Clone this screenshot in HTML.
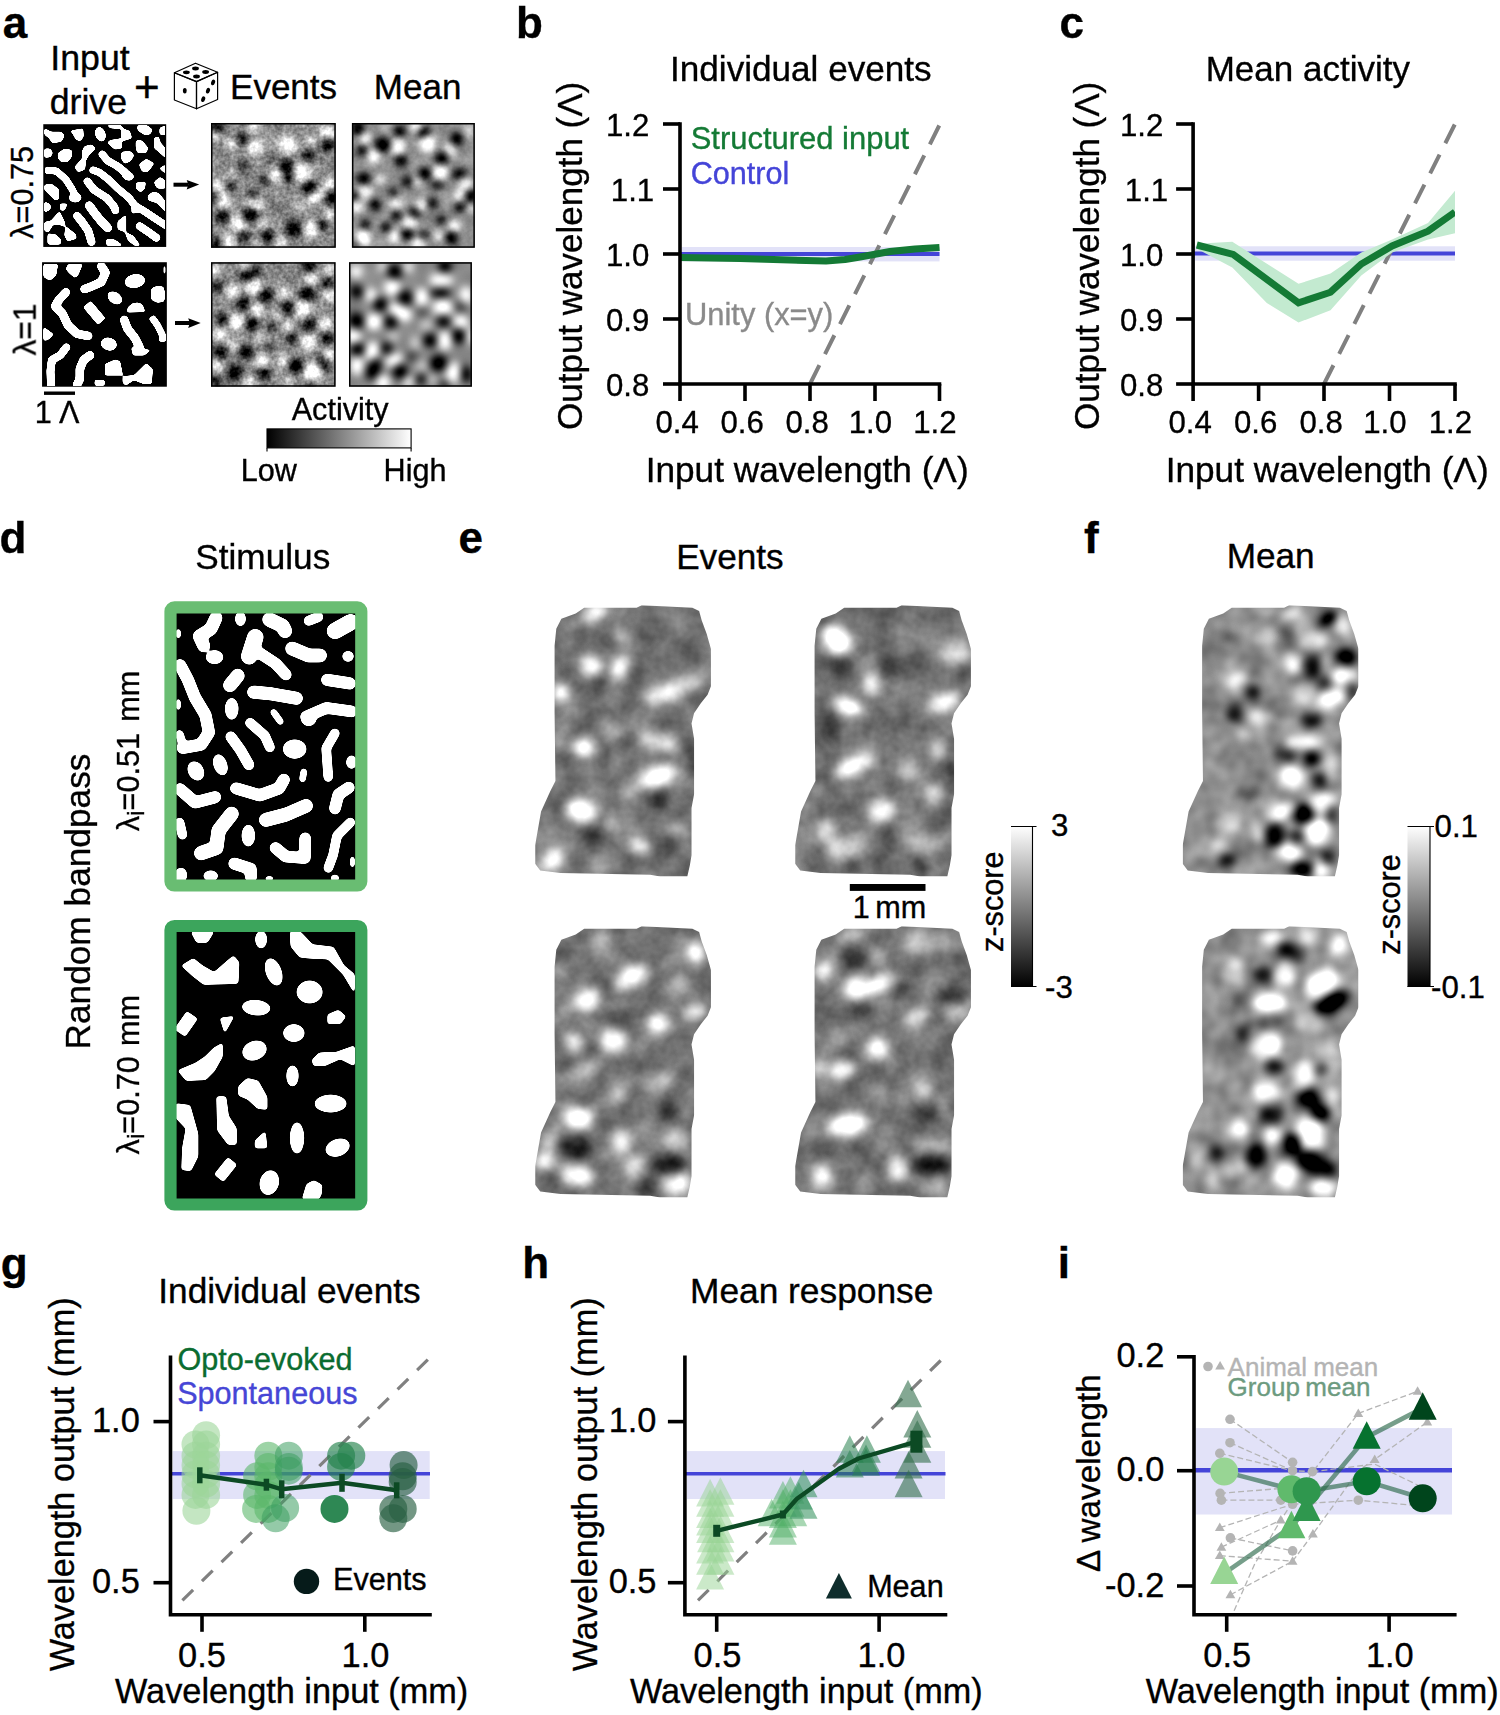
<!DOCTYPE html>
<html><head><meta charset="utf-8"><title>Figure</title>
<style>html,body{margin:0;padding:0;background:#fff}svg{display:block}text{font-family:"Liberation Sans",Arial,Helvetica,sans-serif}</style>
</head><body>
<svg width="1500" height="1715" viewBox="0 0 1500 1715">
<defs><filter id="bS" x="-5%" y="-5%" width="110%" height="110%"><feGaussianBlur stdDeviation="14"/><feComponentTransfer><feFuncA type="linear" slope="9" intercept="-4"/></feComponentTransfer></filter>
<filter id="bS2" x="-5%" y="-5%" width="110%" height="110%"><feGaussianBlur stdDeviation="9"/><feComponentTransfer><feFuncA type="linear" slope="7" intercept="-3"/></feComponentTransfer></filter>
<linearGradient id="gh" x1="0" x2="1" y1="0" y2="0"><stop offset="0" stop-color="#000"/><stop offset="1" stop-color="#fff"/></linearGradient>
<linearGradient id="gv" x1="0" x2="0" y1="0" y2="1"><stop offset="0" stop-color="#fff"/><stop offset="1" stop-color="#000"/></linearGradient><filter id="f1" x="-5%" y="-5%" width="110%" height="110%" color-interpolation-filters="sRGB"><feGaussianBlur in="SourceGraphic" stdDeviation="40" result="b"/><feTurbulence type="fractalNoise" baseFrequency="0.007" numOctaves="1" seed="7" result="n"/><feColorMatrix in="n" type="matrix" values="1 0 0 0 0 1 0 0 0 0 1 0 0 0 0 0 0 0 0 1" result="ng"/><feComposite in="b" in2="ng" operator="arithmetic" k1="0" k2="1" k3="0.22" k4="-0.110" result="b"/><feTurbulence type="fractalNoise" baseFrequency="0.025" numOctaves="2" seed="8" result="n"/><feColorMatrix in="n" type="matrix" values="1 0 0 0 0 1 0 0 0 0 1 0 0 0 0 0 0 0 0 1" result="ng"/><feComposite in="b" in2="ng" operator="arithmetic" k1="0" k2="1" k3="0.33" k4="-0.165" result="b"/><feComponentTransfer in="b"><feFuncR type="linear" slope="1.35" intercept="-0.193"/><feFuncG type="linear" slope="1.35" intercept="-0.193"/><feFuncB type="linear" slope="1.35" intercept="-0.193"/></feComponentTransfer></filter><filter id="f2" x="-5%" y="-5%" width="110%" height="110%" color-interpolation-filters="sRGB"><feGaussianBlur in="SourceGraphic" stdDeviation="40" result="b"/><feTurbulence type="fractalNoise" baseFrequency="0.007" numOctaves="1" seed="14" result="n"/><feColorMatrix in="n" type="matrix" values="1 0 0 0 0 1 0 0 0 0 1 0 0 0 0 0 0 0 0 1" result="ng"/><feComposite in="b" in2="ng" operator="arithmetic" k1="0" k2="1" k3="0.2" k4="-0.100" result="b"/><feTurbulence type="fractalNoise" baseFrequency="0.025" numOctaves="2" seed="15" result="n"/><feColorMatrix in="n" type="matrix" values="1 0 0 0 0 1 0 0 0 0 1 0 0 0 0 0 0 0 0 1" result="ng"/><feComposite in="b" in2="ng" operator="arithmetic" k1="0" k2="1" k3="0.08" k4="-0.040" result="b"/><feComponentTransfer in="b"><feFuncR type="linear" slope="1.35" intercept="-0.193"/><feFuncG type="linear" slope="1.35" intercept="-0.193"/><feFuncB type="linear" slope="1.35" intercept="-0.193"/></feComponentTransfer></filter><filter id="f3" x="-5%" y="-5%" width="110%" height="110%" color-interpolation-filters="sRGB"><feGaussianBlur in="SourceGraphic" stdDeviation="40" result="b"/><feTurbulence type="fractalNoise" baseFrequency="0.007" numOctaves="1" seed="21" result="n"/><feColorMatrix in="n" type="matrix" values="1 0 0 0 0 1 0 0 0 0 1 0 0 0 0 0 0 0 0 1" result="ng"/><feComposite in="b" in2="ng" operator="arithmetic" k1="0" k2="1" k3="0.22" k4="-0.110" result="b"/><feTurbulence type="fractalNoise" baseFrequency="0.025" numOctaves="2" seed="22" result="n"/><feColorMatrix in="n" type="matrix" values="1 0 0 0 0 1 0 0 0 0 1 0 0 0 0 0 0 0 0 1" result="ng"/><feComposite in="b" in2="ng" operator="arithmetic" k1="0" k2="1" k3="0.33" k4="-0.165" result="b"/><feComponentTransfer in="b"><feFuncR type="linear" slope="1.35" intercept="-0.193"/><feFuncG type="linear" slope="1.35" intercept="-0.193"/><feFuncB type="linear" slope="1.35" intercept="-0.193"/></feComponentTransfer></filter><filter id="f4" x="-5%" y="-5%" width="110%" height="110%" color-interpolation-filters="sRGB"><feGaussianBlur in="SourceGraphic" stdDeviation="44.800000000000004" result="b"/><feTurbulence type="fractalNoise" baseFrequency="0.005" numOctaves="1" seed="28" result="n"/><feColorMatrix in="n" type="matrix" values="1 0 0 0 0 1 0 0 0 0 1 0 0 0 0 0 0 0 0 1" result="ng"/><feComposite in="b" in2="ng" operator="arithmetic" k1="0" k2="1" k3="0.15" k4="-0.075" result="b"/><feComponentTransfer in="b"><feFuncR type="linear" slope="1.45" intercept="-0.247"/><feFuncG type="linear" slope="1.45" intercept="-0.247"/><feFuncB type="linear" slope="1.45" intercept="-0.247"/></feComponentTransfer></filter><filter id="f5" x="-5%" y="-5%" width="110%" height="110%" color-interpolation-filters="sRGB"><feGaussianBlur in="SourceGraphic" stdDeviation="31" result="b"/><feTurbulence type="fractalNoise" baseFrequency="0.006" numOctaves="2" seed="35" result="n"/><feColorMatrix in="n" type="matrix" values="1 0 0 0 0 1 0 0 0 0 1 0 0 0 0 0 0 0 0 1" result="ng"/><feComposite in="b" in2="ng" operator="arithmetic" k1="0" k2="1" k3="0.32" k4="-0.160" result="b"/><feTurbulence type="fractalNoise" baseFrequency="0.03" numOctaves="1" seed="36" result="n"/><feColorMatrix in="n" type="matrix" values="1 0 0 0 0 1 0 0 0 0 1 0 0 0 0 0 0 0 0 1" result="ng"/><feComposite in="b" in2="ng" operator="arithmetic" k1="0" k2="1" k3="0.07" k4="-0.035" result="b"/><feComponentTransfer in="b"><feFuncR type="linear" slope="1.3" intercept="-0.135"/><feFuncG type="linear" slope="1.3" intercept="-0.135"/><feFuncB type="linear" slope="1.3" intercept="-0.135"/></feComponentTransfer></filter><filter id="f6" x="-5%" y="-5%" width="110%" height="110%" color-interpolation-filters="sRGB"><feGaussianBlur in="SourceGraphic" stdDeviation="31" result="b"/><feTurbulence type="fractalNoise" baseFrequency="0.006" numOctaves="2" seed="42" result="n"/><feColorMatrix in="n" type="matrix" values="1 0 0 0 0 1 0 0 0 0 1 0 0 0 0 0 0 0 0 1" result="ng"/><feComposite in="b" in2="ng" operator="arithmetic" k1="0" k2="1" k3="0.32" k4="-0.160" result="b"/><feTurbulence type="fractalNoise" baseFrequency="0.03" numOctaves="1" seed="43" result="n"/><feColorMatrix in="n" type="matrix" values="1 0 0 0 0 1 0 0 0 0 1 0 0 0 0 0 0 0 0 1" result="ng"/><feComposite in="b" in2="ng" operator="arithmetic" k1="0" k2="1" k3="0.07" k4="-0.035" result="b"/><feComponentTransfer in="b"><feFuncR type="linear" slope="1.3" intercept="-0.135"/><feFuncG type="linear" slope="1.3" intercept="-0.135"/><feFuncB type="linear" slope="1.3" intercept="-0.135"/></feComponentTransfer></filter><filter id="f7" x="-5%" y="-5%" width="110%" height="110%" color-interpolation-filters="sRGB"><feGaussianBlur in="SourceGraphic" stdDeviation="31" result="b"/><feTurbulence type="fractalNoise" baseFrequency="0.006" numOctaves="2" seed="49" result="n"/><feColorMatrix in="n" type="matrix" values="1 0 0 0 0 1 0 0 0 0 1 0 0 0 0 0 0 0 0 1" result="ng"/><feComposite in="b" in2="ng" operator="arithmetic" k1="0" k2="1" k3="0.32" k4="-0.160" result="b"/><feTurbulence type="fractalNoise" baseFrequency="0.03" numOctaves="1" seed="50" result="n"/><feColorMatrix in="n" type="matrix" values="1 0 0 0 0 1 0 0 0 0 1 0 0 0 0 0 0 0 0 1" result="ng"/><feComposite in="b" in2="ng" operator="arithmetic" k1="0" k2="1" k3="0.07" k4="-0.035" result="b"/><feComponentTransfer in="b"><feFuncR type="linear" slope="1.3" intercept="-0.135"/><feFuncG type="linear" slope="1.3" intercept="-0.135"/><feFuncB type="linear" slope="1.3" intercept="-0.135"/></feComponentTransfer></filter><filter id="f8" x="-5%" y="-5%" width="110%" height="110%" color-interpolation-filters="sRGB"><feGaussianBlur in="SourceGraphic" stdDeviation="31" result="b"/><feTurbulence type="fractalNoise" baseFrequency="0.006" numOctaves="2" seed="56" result="n"/><feColorMatrix in="n" type="matrix" values="1 0 0 0 0 1 0 0 0 0 1 0 0 0 0 0 0 0 0 1" result="ng"/><feComposite in="b" in2="ng" operator="arithmetic" k1="0" k2="1" k3="0.32" k4="-0.160" result="b"/><feTurbulence type="fractalNoise" baseFrequency="0.03" numOctaves="1" seed="57" result="n"/><feColorMatrix in="n" type="matrix" values="1 0 0 0 0 1 0 0 0 0 1 0 0 0 0 0 0 0 0 1" result="ng"/><feComposite in="b" in2="ng" operator="arithmetic" k1="0" k2="1" k3="0.07" k4="-0.035" result="b"/><feComponentTransfer in="b"><feFuncR type="linear" slope="1.3" intercept="-0.135"/><feFuncG type="linear" slope="1.3" intercept="-0.135"/><feFuncB type="linear" slope="1.3" intercept="-0.135"/></feComponentTransfer></filter><filter id="f9" x="-5%" y="-5%" width="110%" height="110%" color-interpolation-filters="sRGB"><feGaussianBlur in="SourceGraphic" stdDeviation="29" result="b"/><feTurbulence type="fractalNoise" baseFrequency="0.007" numOctaves="2" seed="63" result="n"/><feColorMatrix in="n" type="matrix" values="1 0 0 0 0 1 0 0 0 0 1 0 0 0 0 0 0 0 0 1" result="ng"/><feComposite in="b" in2="ng" operator="arithmetic" k1="0" k2="1" k3="0.3" k4="-0.150" result="b"/><feComponentTransfer in="b"><feFuncR type="linear" slope="1.35" intercept="-0.193"/><feFuncG type="linear" slope="1.35" intercept="-0.193"/><feFuncB type="linear" slope="1.35" intercept="-0.193"/></feComponentTransfer></filter><filter id="f10" x="-5%" y="-5%" width="110%" height="110%" color-interpolation-filters="sRGB"><feGaussianBlur in="SourceGraphic" stdDeviation="29" result="b"/><feTurbulence type="fractalNoise" baseFrequency="0.007" numOctaves="2" seed="70" result="n"/><feColorMatrix in="n" type="matrix" values="1 0 0 0 0 1 0 0 0 0 1 0 0 0 0 0 0 0 0 1" result="ng"/><feComposite in="b" in2="ng" operator="arithmetic" k1="0" k2="1" k3="0.3" k4="-0.150" result="b"/><feComponentTransfer in="b"><feFuncR type="linear" slope="1.35" intercept="-0.193"/><feFuncG type="linear" slope="1.35" intercept="-0.193"/><feFuncB type="linear" slope="1.35" intercept="-0.193"/></feComponentTransfer></filter></defs>
<rect width="1500" height="1715" fill="#fff"/>
<g transform="translate(36,116) scale(0.09333)"><clipPath id="c1"><rect x="92" y="102" width="1289" height="1287"/></clipPath><rect x="78" y="88" width="1317" height="1315" fill="#000"/><g clip-path="url(#c1)"><g filter="url(#bS)"><g fill="#fff"><polygon points="95,140 160,175 270,175 300,210 270,270 180,285 140,230 95,195" stroke="#fff" stroke-width="16" stroke-linejoin="round"/><polygon points="375,160 500,140 505,220 470,265 430,245 400,190" stroke="#fff" stroke-width="16" stroke-linejoin="round"/><ellipse cx="690" cy="195" rx="56.0" ry="80.6" transform="rotate(-20 690 195)"/><polygon points="770,100 900,100 935,135 800,125" stroke="#fff" stroke-width="16" stroke-linejoin="round"/><polygon points="925,140 1000,165 1022,235 935,262 915,200" stroke="#fff" stroke-width="16" stroke-linejoin="round"/><polygon points="770,285 800,262 915,245 915,340 845,352" stroke="#fff" stroke-width="16" stroke-linejoin="round"/><polygon points="1090,105 1190,105 1245,150 1215,195 1160,195 1095,150" stroke="#fff" stroke-width="16" stroke-linejoin="round"/><polygon points="1330,130 1385,110 1385,200 1330,195" stroke="#fff" stroke-width="16" stroke-linejoin="round"/><polygon points="1270,240 1310,225 1330,290 1385,350 1385,440 1320,380 1270,340" stroke="#fff" stroke-width="16" stroke-linejoin="round"/><polygon points="1075,265 1130,265 1195,340 1180,390 1090,390 1075,340" stroke="#fff" stroke-width="16" stroke-linejoin="round"/><polygon points="95,355 150,355 175,395 150,435 95,440" stroke="#fff" stroke-width="16" stroke-linejoin="round"/><polygon points="240,400 310,355 380,370 380,430 340,485 270,485 240,445" stroke="#fff" stroke-width="16" stroke-linejoin="round"/><polygon points="520,330 590,310 635,345 560,420 530,470 520,570 450,595 420,545 500,460 500,380" stroke="#fff" stroke-width="16" stroke-linejoin="round"/><polyline points="710,410 770,480 870,535 950,600" fill="none" stroke="#fff" stroke-width="84.0" stroke-linecap="round" stroke-linejoin="round"/><ellipse cx="985" cy="640" rx="67.2" ry="50.4" transform="rotate(20 985 640)"/><polygon points="920,390 1010,385 1045,420 1010,480 950,505 920,460" stroke="#fff" stroke-width="16" stroke-linejoin="round"/><polygon points="1110,520 1180,465 1260,510 1200,590 1140,590" stroke="#fff" stroke-width="16" stroke-linejoin="round"/><polygon points="1330,560 1385,530 1385,610" stroke="#fff" stroke-width="16" stroke-linejoin="round"/><polyline points="95,580 220,590 320,680 390,790 430,870" fill="none" stroke="#fff" stroke-width="78.0" stroke-linecap="butt" stroke-linejoin="round"/><ellipse cx="420" cy="875" rx="69.4" ry="53.8"/><polyline points="610,580 680,605 790,690 880,780 1000,880 1060,960 1160,1020 1280,1100 1400,1180" fill="none" stroke="#fff" stroke-width="81.6" stroke-linecap="round" stroke-linejoin="round"/><polygon points="1030,960 1090,960 1090,1030 1030,1040" stroke="#fff" stroke-width="16" stroke-linejoin="round"/><polyline points="550,700 620,790 760,880 840,975 850,1010" fill="none" stroke="#fff" stroke-width="86.39999999999999" stroke-linecap="round" stroke-linejoin="round"/><polygon points="1075,720 1170,710 1160,780 1120,810 1080,780" stroke="#fff" stroke-width="16" stroke-linejoin="round"/><polygon points="1270,710 1330,660 1385,700 1385,770 1300,770" stroke="#fff" stroke-width="16" stroke-linejoin="round"/><polygon points="95,740 170,735 240,790 240,890 200,895 95,790" stroke="#fff" stroke-width="16" stroke-linejoin="round"/><polygon points="1200,860 1250,820 1310,830 1385,920 1385,1020 1300,930 1210,900" stroke="#fff" stroke-width="16" stroke-linejoin="round"/><polygon points="95,925 150,950 150,1000 95,1025" stroke="#fff" stroke-width="16" stroke-linejoin="round"/><polygon points="260,945 330,945 300,1010 265,1005" stroke="#fff" stroke-width="16" stroke-linejoin="round"/><polyline points="570,960 620,1030 700,1130 770,1200" fill="none" stroke="#fff" stroke-width="96.0" stroke-linecap="round" stroke-linejoin="round"/><polyline points="440,1070 490,1130 560,1230 595,1350" fill="none" stroke="#fff" stroke-width="90.0" stroke-linecap="round" stroke-linejoin="round"/><polygon points="250,1030 300,1130 310,1180 250,1160 180,1160 130,1240 95,1230 95,1140 160,1130" stroke="#fff" stroke-width="16" stroke-linejoin="round"/><polygon points="320,1190 420,1270 430,1310 340,1335 310,1280" stroke="#fff" stroke-width="16" stroke-linejoin="round"/><polygon points="130,1270 200,1270 260,1320 260,1370 130,1370" stroke="#fff" stroke-width="16" stroke-linejoin="round"/><polygon points="880,1130 960,1070 960,1240 880,1210" stroke="#fff" stroke-width="16" stroke-linejoin="round"/><polyline points="1110,1180 1200,1240 1290,1305" fill="none" stroke="#fff" stroke-width="86.39999999999999" stroke-linecap="round" stroke-linejoin="round"/><polygon points="960,1250 1040,1290 1110,1385 1060,1385 990,1330" stroke="#fff" stroke-width="16" stroke-linejoin="round"/><polygon points="760,1320 840,1330 920,1385 760,1385" stroke="#fff" stroke-width="16" stroke-linejoin="round"/></g></g></g></g>
<g transform="translate(204,116) scale(0.09333)"><clipPath id="c2"><rect x="75" y="75" width="1337" height="1337"/></clipPath><g clip-path="url(#c2)"><g filter="url(#f1)"><rect x="-75" y="-75" width="1637" height="1637" fill="#8c8c8c"/><ellipse cx="540" cy="330" rx="84.0" ry="84.0" fill="#fff" fill-opacity="0.9"/><ellipse cx="900" cy="310" rx="96.0" ry="96.0" fill="#fff" fill-opacity="0.9"/><ellipse cx="1050" cy="610" rx="102.0" ry="102.0" fill="#fff" fill-opacity="0.9"/><ellipse cx="770" cy="640" rx="72.0" ry="72.0" fill="#fff" fill-opacity="0.9"/><ellipse cx="1330" cy="180" rx="84.0" ry="84.0" fill="#fff" fill-opacity="0.9"/><ellipse cx="1150" cy="270" rx="48.0" ry="48.0" fill="#fff" fill-opacity="0.9"/><ellipse cx="540" cy="100" rx="60.0" ry="60.0" fill="#fff" fill-opacity="0.9"/><ellipse cx="300" cy="290" rx="60.0" ry="60.0" fill="#fff" fill-opacity="0.9"/><ellipse cx="150" cy="760" rx="72.0" ry="72.0" fill="#fff" fill-opacity="0.9"/><ellipse cx="200" cy="880" rx="72.0" ry="72.0" fill="#fff" fill-opacity="0.9"/><ellipse cx="220" cy="950" rx="60.0" ry="60.0" fill="#fff" fill-opacity="0.9"/><ellipse cx="540" cy="950" rx="108.0" ry="54.0" fill="#fff" fill-opacity="0.9"/><ellipse cx="1200" cy="860" rx="114.0" ry="60.0" transform="rotate(-30 1200 860)" fill="#fff" fill-opacity="0.9"/><ellipse cx="1350" cy="720" rx="60.0" ry="60.0" fill="#fff" fill-opacity="0.9"/><ellipse cx="370" cy="1150" rx="90.0" ry="90.0" fill="#fff" fill-opacity="0.9"/><ellipse cx="640" cy="1150" rx="54.0" ry="54.0" fill="#fff" fill-opacity="0.9"/><ellipse cx="1150" cy="1210" rx="90.0" ry="90.0" fill="#fff" fill-opacity="0.9"/><ellipse cx="260" cy="1340" rx="72.0" ry="72.0" fill="#fff" fill-opacity="0.9"/><ellipse cx="820" cy="1350" rx="60.0" ry="60.0" fill="#fff" fill-opacity="0.9"/><ellipse cx="1340" cy="1050" rx="54.0" ry="54.0" fill="#fff" fill-opacity="0.9"/><ellipse cx="120" cy="200" rx="54.0" ry="54.0" fill="#fff" fill-opacity="0.9"/><ellipse cx="560" cy="1370" rx="48.0" ry="48.0" fill="#fff" fill-opacity="0.9"/><ellipse cx="300" cy="620" rx="60.0" ry="60.0" fill="#fff" fill-opacity="0.4"/><ellipse cx="1000" cy="960" rx="72.0" ry="72.0" fill="#fff" fill-opacity="0.35"/><ellipse cx="730" cy="250" rx="60.0" ry="60.0" fill="#fff" fill-opacity="0.3"/><ellipse cx="150" cy="120" rx="66.0" ry="66.0" fill="#000" fill-opacity="0.9"/><ellipse cx="410" cy="250" rx="66.0" ry="66.0" fill="#000" fill-opacity="0.9"/><ellipse cx="1320" cy="310" rx="72.0" ry="72.0" fill="#000" fill-opacity="0.9"/><ellipse cx="1110" cy="430" rx="66.0" ry="66.0" fill="#000" fill-opacity="0.9"/><ellipse cx="880" cy="540" rx="78.0" ry="78.0" fill="#000" fill-opacity="0.9"/><ellipse cx="910" cy="660" rx="54.0" ry="54.0" fill="#000" fill-opacity="0.9"/><ellipse cx="1130" cy="760" rx="78.0" ry="78.0" fill="#000" fill-opacity="0.9"/><ellipse cx="110" cy="870" rx="54.0" ry="54.0" fill="#000" fill-opacity="0.9"/><ellipse cx="1370" cy="880" rx="78.0" ry="78.0" fill="#000" fill-opacity="0.9"/><ellipse cx="280" cy="760" rx="54.0" ry="54.0" fill="#000" fill-opacity="0.9"/><ellipse cx="200" cy="1080" rx="72.0" ry="72.0" fill="#000" fill-opacity="0.9"/><ellipse cx="490" cy="1060" rx="84.0" ry="84.0" fill="#000" fill-opacity="0.9"/><ellipse cx="960" cy="1210" rx="90.0" ry="90.0" fill="#000" fill-opacity="0.9"/><ellipse cx="1270" cy="1170" rx="60.0" ry="60.0" fill="#000" fill-opacity="0.9"/><ellipse cx="680" cy="1290" rx="72.0" ry="72.0" fill="#000" fill-opacity="0.9"/><ellipse cx="430" cy="1290" rx="60.0" ry="60.0" fill="#000" fill-opacity="0.9"/><ellipse cx="130" cy="1370" rx="66.0" ry="66.0" fill="#000" fill-opacity="0.9"/><ellipse cx="650" cy="700" rx="48.0" ry="48.0" fill="#000" fill-opacity="0.9"/><ellipse cx="430" cy="530" rx="48.0" ry="48.0" fill="#000" fill-opacity="0.9"/><ellipse cx="520" cy="830" rx="48.0" ry="48.0" fill="#000" fill-opacity="0.9"/><ellipse cx="720" cy="450" rx="48.0" ry="48.0" fill="#000" fill-opacity="0.4"/><ellipse cx="800" cy="1000" rx="60.0" ry="60.0" fill="#000" fill-opacity="0.3"/></g></g><rect x="83" y="83" width="1321" height="1321" fill="none" stroke="#000" stroke-width="16"/></g>
<g transform="translate(344,116) scale(0.09333)"><clipPath id="c3"><rect x="85" y="75" width="1317" height="1337"/></clipPath><g clip-path="url(#c3)"><g filter="url(#f2)"><rect x="-65" y="-75" width="1617" height="1637" fill="#909090"/><ellipse cx="570" cy="330" rx="86.39999999999999" ry="86.39999999999999" fill="#fff" fill-opacity="0.9"/><ellipse cx="890" cy="300" rx="90.0" ry="90.0" fill="#fff" fill-opacity="0.9"/><ellipse cx="320" cy="430" rx="74.39999999999999" ry="74.39999999999999" fill="#fff" fill-opacity="0.9"/><ellipse cx="1020" cy="610" rx="86.39999999999999" ry="86.39999999999999" fill="#fff" fill-opacity="0.9"/><ellipse cx="210" cy="820" rx="81.6" ry="81.6" fill="#fff" fill-opacity="0.9"/><ellipse cx="130" cy="980" rx="62.4" ry="62.4" fill="#fff" fill-opacity="0.9"/><ellipse cx="560" cy="950" rx="62.4" ry="62.4" fill="#fff" fill-opacity="0.9"/><ellipse cx="830" cy="950" rx="62.4" ry="62.4" fill="#fff" fill-opacity="0.9"/><ellipse cx="710" cy="1150" rx="74.39999999999999" ry="74.39999999999999" fill="#fff" fill-opacity="0.9"/><ellipse cx="200" cy="1310" rx="86.39999999999999" ry="86.39999999999999" fill="#fff" fill-opacity="0.9"/><ellipse cx="540" cy="1290" rx="62.4" ry="62.4" fill="#fff" fill-opacity="0.9"/><ellipse cx="800" cy="1370" rx="74.39999999999999" ry="74.39999999999999" fill="#fff" fill-opacity="0.9"/><ellipse cx="1130" cy="370" rx="72.0" ry="72.0" fill="#fff" fill-opacity="0.9"/><ellipse cx="770" cy="110" rx="60.0" ry="60.0" fill="#fff" fill-opacity="0.9"/><ellipse cx="1310" cy="730" rx="62.4" ry="62.4" fill="#fff" fill-opacity="0.9"/><ellipse cx="1370" cy="990" rx="48.0" ry="48.0" fill="#fff" fill-opacity="0.9"/><ellipse cx="1180" cy="1180" rx="60.0" ry="60.0" fill="#fff" fill-opacity="0.9"/><ellipse cx="790" cy="710" rx="50.4" ry="50.4" fill="#fff" fill-opacity="0.9"/><ellipse cx="220" cy="240" rx="60.0" ry="60.0" fill="#fff" fill-opacity="0.9"/><ellipse cx="1230" cy="850" rx="60.0" ry="60.0" fill="#fff" fill-opacity="0.9"/><ellipse cx="380" cy="680" rx="50.4" ry="50.4" fill="#fff" fill-opacity="0.9"/><ellipse cx="1010" cy="1290" rx="50.4" ry="50.4" fill="#fff" fill-opacity="0.9"/><ellipse cx="420" cy="130" rx="48.0" ry="48.0" fill="#fff" fill-opacity="0.4"/><ellipse cx="1330" cy="150" rx="72.0" ry="72.0" fill="#fff" fill-opacity="0.4"/><ellipse cx="150" cy="130" rx="74.39999999999999" ry="74.39999999999999" fill="#000" fill-opacity="0.9"/><ellipse cx="590" cy="160" rx="62.4" ry="62.4" fill="#000" fill-opacity="0.9"/><ellipse cx="860" cy="170" rx="84.0" ry="50.4" transform="rotate(-30 860 170)" fill="#000" fill-opacity="0.9"/><ellipse cx="420" cy="310" rx="86.39999999999999" ry="86.39999999999999" fill="#000" fill-opacity="0.9"/><ellipse cx="1210" cy="240" rx="74.39999999999999" ry="74.39999999999999" fill="#000" fill-opacity="0.9"/><ellipse cx="190" cy="370" rx="62.4" ry="62.4" fill="#000" fill-opacity="0.9"/><ellipse cx="610" cy="480" rx="69.6" ry="69.6" fill="#000" fill-opacity="0.9"/><ellipse cx="1050" cy="450" rx="74.39999999999999" ry="74.39999999999999" fill="#000" fill-opacity="0.9"/><ellipse cx="870" cy="620" rx="74.39999999999999" ry="74.39999999999999" fill="#000" fill-opacity="0.9"/><ellipse cx="210" cy="680" rx="69.6" ry="69.6" fill="#000" fill-opacity="0.9"/><ellipse cx="670" cy="700" rx="62.4" ry="62.4" fill="#000" fill-opacity="0.9"/><ellipse cx="1230" cy="620" rx="102.0" ry="43.199999999999996" transform="rotate(-25 1230 620)" fill="#000" fill-opacity="0.9"/><ellipse cx="110" cy="850" rx="57.599999999999994" ry="57.599999999999994" fill="#000" fill-opacity="0.9"/><ellipse cx="1370" cy="850" rx="74.39999999999999" ry="74.39999999999999" fill="#000" fill-opacity="0.9"/><ellipse cx="330" cy="950" rx="62.4" ry="62.4" fill="#000" fill-opacity="0.9"/><ellipse cx="950" cy="940" rx="57.599999999999994" ry="57.599999999999994" fill="#000" fill-opacity="0.9"/><ellipse cx="1240" cy="980" rx="57.599999999999994" ry="57.599999999999994" fill="#000" fill-opacity="0.9"/><ellipse cx="560" cy="1060" rx="57.599999999999994" ry="57.599999999999994" fill="#000" fill-opacity="0.9"/><ellipse cx="760" cy="1030" rx="48.0" ry="72.0" transform="rotate(-35 760 1030)" fill="#000" fill-opacity="0.9"/><ellipse cx="1040" cy="1120" rx="50.4" ry="50.4" fill="#000" fill-opacity="0.9"/><ellipse cx="230" cy="1170" rx="50.4" ry="50.4" fill="#000" fill-opacity="0.9"/><ellipse cx="450" cy="1190" rx="50.4" ry="50.4" fill="#000" fill-opacity="0.9"/><ellipse cx="680" cy="1270" rx="69.6" ry="69.6" fill="#000" fill-opacity="0.9"/><ellipse cx="860" cy="1270" rx="50.4" ry="50.4" fill="#000" fill-opacity="0.9"/><ellipse cx="1150" cy="1310" rx="74.39999999999999" ry="74.39999999999999" fill="#000" fill-opacity="0.9"/><ellipse cx="520" cy="820" rx="43.199999999999996" ry="43.199999999999996" fill="#000" fill-opacity="0.9"/><ellipse cx="1000" cy="740" rx="72.0" ry="48.0" fill="#000" fill-opacity="0.9"/><ellipse cx="130" cy="1380" rx="38.4" ry="38.4" fill="#000" fill-opacity="0.9"/></g></g><rect x="93" y="83" width="1301" height="1321" fill="none" stroke="#000" stroke-width="16"/></g>
<g transform="translate(36,254) scale(0.09333)"><clipPath id="c4"><rect x="79" y="102" width="1309" height="1306"/></clipPath><rect x="65" y="88" width="1337" height="1334" fill="#000"/><g clip-path="url(#c4)"><g filter="url(#bS)"><g fill="#fff"><polygon points="80,108 235,108 215,230 150,285 80,245" stroke="#fff" stroke-width="6" stroke-linejoin="round"/><polygon points="345,108 500,108 450,230 415,255 350,200 320,160" stroke="#fff" stroke-width="6" stroke-linejoin="round"/><polyline points="700,130 745,200 700,300 600,345 520,375" fill="none" stroke="#fff" stroke-width="95.0" stroke-linecap="round" stroke-linejoin="round"/><ellipse cx="1060" cy="290" rx="112.0" ry="75.0" transform="rotate(-10 1060 290)"/><polygon points="1368,125 1385,125 1385,215 1368,215" stroke="#fff" stroke-width="6" stroke-linejoin="round"/><polygon points="1235,370 1290,345 1365,350 1385,440 1370,510 1300,520 1235,490" stroke="#fff" stroke-width="6" stroke-linejoin="round"/><ellipse cx="845" cy="470" rx="88.0" ry="62.0" transform="rotate(35 845 470)"/><polyline points="320,410 245,490 205,560 285,640 340,760 440,855 560,878" fill="none" stroke="#fff" stroke-width="95.0" stroke-linecap="round" stroke-linejoin="round"/><polyline points="545,535 705,725" fill="none" stroke="#fff" stroke-width="110.0" stroke-linecap="butt" stroke-linejoin="round"/><polygon points="975,625 985,570 1030,530 1090,520 1140,540 1170,620" stroke="#fff" stroke-width="6" stroke-linejoin="round"/><polyline points="945,705 980,800 1060,900 1110,1000" fill="none" stroke="#fff" stroke-width="95.0" stroke-linecap="round" stroke-linejoin="round"/><polygon points="1020,1000 1230,1030 1160,1085 1040,1085" stroke="#fff" stroke-width="6" stroke-linejoin="round"/><polyline points="1235,670 1300,760 1355,870 1355,940" fill="none" stroke="#fff" stroke-width="75.0" stroke-linecap="butt" stroke-linejoin="round"/><polygon points="80,780 190,860 130,920 80,930" stroke="#fff" stroke-width="6" stroke-linejoin="round"/><ellipse cx="780" cy="965" rx="88.0" ry="70.0" transform="rotate(15 780 965)"/><polyline points="325,1000 260,1085 170,1135 155,1250 160,1400" fill="none" stroke="#fff" stroke-width="88.0" stroke-linecap="round" stroke-linejoin="round"/><polyline points="580,1085 510,1135 470,1230 470,1340 440,1400" fill="none" stroke="#fff" stroke-width="95.0" stroke-linecap="round" stroke-linejoin="round"/><polygon points="740,1180 850,1130 900,1150 930,1300 740,1300" stroke="#fff" stroke-width="6" stroke-linejoin="round"/><polygon points="930,1310 1050,1300 1180,1170 1250,1230 1240,1390 1150,1390 1050,1350 960,1410 930,1380" stroke="#fff" stroke-width="6" stroke-linejoin="round"/><polygon points="630,1350 735,1350 735,1410 630,1410" stroke="#fff" stroke-width="6" stroke-linejoin="round"/></g></g></g></g>
<g transform="translate(204,254) scale(0.09333)"><clipPath id="c5"><rect x="75" y="88" width="1335" height="1334"/></clipPath><g clip-path="url(#c5)"><g filter="url(#f3)"><rect x="-75" y="-62" width="1635" height="1634" fill="#8c8c8c"/><ellipse cx="540" cy="350" rx="93.6" ry="93.6" fill="#fff" fill-opacity="0.9"/><ellipse cx="1150" cy="270" rx="66.0" ry="66.0" fill="#fff" fill-opacity="0.9"/><ellipse cx="1060" cy="590" rx="96.0" ry="96.0" fill="#fff" fill-opacity="0.9"/><ellipse cx="570" cy="600" rx="74.39999999999999" ry="74.39999999999999" fill="#fff" fill-opacity="0.9"/><ellipse cx="300" cy="400" rx="66.0" ry="66.0" fill="#fff" fill-opacity="0.9"/><ellipse cx="340" cy="720" rx="86.39999999999999" ry="86.39999999999999" fill="#fff" fill-opacity="0.9"/><ellipse cx="1310" cy="750" rx="74.39999999999999" ry="74.39999999999999" fill="#fff" fill-opacity="0.9"/><ellipse cx="1120" cy="940" rx="86.39999999999999" ry="86.39999999999999" fill="#fff" fill-opacity="0.9"/><ellipse cx="900" cy="780" rx="60.0" ry="60.0" fill="#fff" fill-opacity="0.9"/><ellipse cx="170" cy="870" rx="72.0" ry="72.0" fill="#fff" fill-opacity="0.9"/><ellipse cx="620" cy="1150" rx="74.39999999999999" ry="74.39999999999999" fill="#fff" fill-opacity="0.9"/><ellipse cx="1160" cy="1270" rx="108.0" ry="108.0" fill="#fff" fill-opacity="0.9"/><ellipse cx="140" cy="1200" rx="60.0" ry="60.0" fill="#fff" fill-opacity="0.9"/><ellipse cx="120" cy="180" rx="60.0" ry="60.0" fill="#fff" fill-opacity="0.9"/><ellipse cx="1350" cy="170" rx="54.0" ry="54.0" fill="#fff" fill-opacity="0.9"/><ellipse cx="1330" cy="450" rx="60.0" ry="60.0" fill="#fff" fill-opacity="0.9"/><ellipse cx="840" cy="430" rx="60.0" ry="60.0" fill="#fff" fill-opacity="0.9"/><ellipse cx="770" cy="650" rx="48.0" ry="48.0" fill="#fff" fill-opacity="0.9"/><ellipse cx="1340" cy="1080" rx="60.0" ry="60.0" fill="#fff" fill-opacity="0.9"/><ellipse cx="850" cy="1150" rx="60.0" ry="60.0" fill="#fff" fill-opacity="0.9"/><ellipse cx="480" cy="1380" rx="60.0" ry="60.0" fill="#fff" fill-opacity="0.9"/><ellipse cx="600" cy="900" rx="48.0" ry="48.0" fill="#fff" fill-opacity="0.9"/><ellipse cx="300" cy="980" rx="48.0" ry="48.0" fill="#fff" fill-opacity="0.9"/><ellipse cx="900" cy="1360" rx="48.0" ry="48.0" fill="#fff" fill-opacity="0.9"/><ellipse cx="430" cy="130" rx="48.0" ry="48.0" fill="#fff" fill-opacity="0.9"/><ellipse cx="1120" cy="130" rx="74.39999999999999" ry="74.39999999999999" fill="#000" fill-opacity="0.9"/><ellipse cx="500" cy="220" rx="132.0" ry="60.0" transform="rotate(-20 500 220)" fill="#000" fill-opacity="0.9"/><ellipse cx="660" cy="450" rx="81.6" ry="81.6" fill="#000" fill-opacity="0.9"/><ellipse cx="1110" cy="430" rx="81.6" ry="81.6" fill="#000" fill-opacity="0.9"/><ellipse cx="420" cy="530" rx="74.39999999999999" ry="74.39999999999999" fill="#000" fill-opacity="0.9"/><ellipse cx="900" cy="580" rx="74.39999999999999" ry="74.39999999999999" fill="#000" fill-opacity="0.9"/><ellipse cx="1130" cy="760" rx="74.39999999999999" ry="74.39999999999999" fill="#000" fill-opacity="0.9"/><ellipse cx="520" cy="750" rx="69.6" ry="69.6" fill="#000" fill-opacity="0.9"/><ellipse cx="200" cy="700" rx="72.0" ry="54.0" transform="rotate(30 200 700)" fill="#000" fill-opacity="0.9"/><ellipse cx="1320" cy="900" rx="69.6" ry="69.6" fill="#000" fill-opacity="0.9"/><ellipse cx="940" cy="900" rx="62.4" ry="62.4" fill="#000" fill-opacity="0.9"/><ellipse cx="450" cy="1050" rx="74.39999999999999" ry="74.39999999999999" fill="#000" fill-opacity="0.9"/><ellipse cx="180" cy="1050" rx="74.39999999999999" ry="74.39999999999999" fill="#000" fill-opacity="0.9"/><ellipse cx="990" cy="1200" rx="86.39999999999999" ry="86.39999999999999" fill="#000" fill-opacity="0.9"/><ellipse cx="330" cy="1270" rx="81.6" ry="81.6" fill="#000" fill-opacity="0.9"/><ellipse cx="640" cy="1280" rx="69.6" ry="69.6" fill="#000" fill-opacity="0.9"/><ellipse cx="1280" cy="1170" rx="48.0" ry="108.0" transform="rotate(-30 1280 1170)" fill="#000" fill-opacity="0.9"/><ellipse cx="130" cy="1370" rx="60.0" ry="60.0" fill="#000" fill-opacity="0.9"/><ellipse cx="1320" cy="310" rx="60.0" ry="60.0" fill="#000" fill-opacity="0.9"/><ellipse cx="140" cy="350" rx="60.0" ry="60.0" fill="#000" fill-opacity="0.9"/><ellipse cx="720" cy="1000" rx="38.4" ry="38.4" fill="#000" fill-opacity="0.9"/><ellipse cx="730" cy="770" rx="48.0" ry="48.0" fill="#000" fill-opacity="0.9"/><ellipse cx="1150" cy="1400" rx="43.199999999999996" ry="43.199999999999996" fill="#000" fill-opacity="0.9"/></g></g><rect x="83" y="96" width="1319" height="1318" fill="none" stroke="#000" stroke-width="16"/></g>
<g transform="translate(342,254) scale(0.09333)"><clipPath id="c6"><rect x="75" y="88" width="1317" height="1334"/></clipPath><g clip-path="url(#c6)"><g filter="url(#f4)"><rect x="-75" y="-62" width="1617" height="1634" fill="#8a8a8a"/><ellipse cx="150" cy="190" rx="66.0" ry="66.0" fill="#fff" fill-opacity="0.9"/><ellipse cx="430" cy="130" rx="50.4" ry="50.4" fill="#fff" fill-opacity="0.9"/><ellipse cx="710" cy="140" rx="50.4" ry="50.4" fill="#fff" fill-opacity="0.9"/><ellipse cx="540" cy="360" rx="86.39999999999999" ry="86.39999999999999" fill="#fff" fill-opacity="0.9"/><ellipse cx="1060" cy="280" rx="126.0" ry="69.6" fill="#fff" fill-opacity="0.9"/><ellipse cx="310" cy="440" rx="60.0" ry="78.0" fill="#fff" fill-opacity="0.9"/><ellipse cx="850" cy="460" rx="69.6" ry="98.39999999999999" fill="#fff" fill-opacity="0.9"/><ellipse cx="1330" cy="440" rx="60.0" ry="98.39999999999999" fill="#fff" fill-opacity="0.9"/><ellipse cx="1080" cy="580" rx="98.39999999999999" ry="98.39999999999999" fill="#fff" fill-opacity="0.9"/><ellipse cx="620" cy="620" rx="138.0" ry="72.0" transform="rotate(32 620 620)" fill="#fff" fill-opacity="0.9"/><ellipse cx="340" cy="730" rx="86.39999999999999" ry="86.39999999999999" fill="#fff" fill-opacity="0.9"/><ellipse cx="1280" cy="730" rx="79.2" ry="79.2" fill="#fff" fill-opacity="0.9"/><ellipse cx="900" cy="760" rx="66.0" ry="66.0" fill="#fff" fill-opacity="0.5"/><ellipse cx="120" cy="880" rx="81.6" ry="81.6" fill="#fff" fill-opacity="0.9"/><ellipse cx="550" cy="880" rx="66.0" ry="66.0" fill="#fff" fill-opacity="0.5"/><ellipse cx="1100" cy="930" rx="69.6" ry="105.6" fill="#fff" fill-opacity="0.9"/><ellipse cx="780" cy="960" rx="60.0" ry="60.0" fill="#fff" fill-opacity="0.5"/><ellipse cx="320" cy="1040" rx="66.0" ry="105.6" transform="rotate(20 320 1040)" fill="#fff" fill-opacity="0.9"/><ellipse cx="560" cy="1140" rx="98.39999999999999" ry="60.0" transform="rotate(-30 560 1140)" fill="#fff" fill-opacity="0.9"/><ellipse cx="160" cy="1200" rx="60.0" ry="110.39999999999999" fill="#fff" fill-opacity="0.9"/><ellipse cx="1190" cy="1270" rx="74.39999999999999" ry="110.39999999999999" transform="rotate(10 1190 1270)" fill="#fff" fill-opacity="0.9"/><ellipse cx="440" cy="1370" rx="79.2" ry="79.2" fill="#fff" fill-opacity="0.9"/><ellipse cx="710" cy="1370" rx="50.4" ry="50.4" fill="#fff" fill-opacity="0.9"/><ellipse cx="860" cy="1190" rx="60.0" ry="60.0" fill="#fff" fill-opacity="0.5"/><ellipse cx="1380" cy="880" rx="36.0" ry="84.0" fill="#fff" fill-opacity="0.9"/><ellipse cx="950" cy="1350" rx="48.0" ry="48.0" fill="#fff" fill-opacity="0.5"/><ellipse cx="560" cy="190" rx="79.2" ry="79.2" fill="#000" fill-opacity="0.9"/><ellipse cx="1100" cy="130" rx="67.2" ry="67.2" fill="#000" fill-opacity="0.9"/><ellipse cx="160" cy="400" rx="67.2" ry="67.2" fill="#000" fill-opacity="0.9"/><ellipse cx="1050" cy="420" rx="110.39999999999999" ry="48.0" fill="#000" fill-opacity="0.9"/><ellipse cx="680" cy="470" rx="86.39999999999999" ry="86.39999999999999" fill="#000" fill-opacity="0.9"/><ellipse cx="410" cy="540" rx="74.39999999999999" ry="74.39999999999999" fill="#000" fill-opacity="0.9"/><ellipse cx="160" cy="720" rx="86.39999999999999" ry="86.39999999999999" fill="#000" fill-opacity="0.9"/><ellipse cx="520" cy="730" rx="74.39999999999999" ry="74.39999999999999" fill="#000" fill-opacity="0.9"/><ellipse cx="1090" cy="720" rx="74.39999999999999" ry="74.39999999999999" fill="#000" fill-opacity="0.9"/><ellipse cx="860" cy="620" rx="48.0" ry="48.0" fill="#000" fill-opacity="0.5"/><ellipse cx="1250" cy="880" rx="67.2" ry="93.6" fill="#000" fill-opacity="0.9"/><ellipse cx="940" cy="930" rx="74.39999999999999" ry="74.39999999999999" fill="#000" fill-opacity="0.9"/><ellipse cx="170" cy="1020" rx="74.39999999999999" ry="74.39999999999999" fill="#000" fill-opacity="0.9"/><ellipse cx="480" cy="1010" rx="62.4" ry="62.4" fill="#000" fill-opacity="0.9"/><ellipse cx="1040" cy="1170" rx="93.6" ry="93.6" fill="#000" fill-opacity="0.9"/><ellipse cx="340" cy="1230" rx="66.0" ry="126.0" transform="rotate(20 340 1230)" fill="#000" fill-opacity="0.9"/><ellipse cx="620" cy="1260" rx="79.2" ry="79.2" fill="#000" fill-opacity="0.9"/><ellipse cx="1330" cy="1290" rx="48.0" ry="98.39999999999999" fill="#000" fill-opacity="0.9"/><ellipse cx="850" cy="1340" rx="55.199999999999996" ry="55.199999999999996" fill="#000" fill-opacity="0.9"/><ellipse cx="1270" cy="560" rx="55.199999999999996" ry="55.199999999999996" fill="#000" fill-opacity="0.5"/><ellipse cx="750" cy="1100" rx="48.0" ry="48.0" fill="#000" fill-opacity="0.5"/><ellipse cx="1100" cy="1400" rx="38.4" ry="38.4" fill="#000" fill-opacity="0.9"/></g></g><rect x="83" y="96" width="1301" height="1318" fill="none" stroke="#000" stroke-width="16"/></g>
<g transform="translate(0,0)"><rect x="173.5" y="182.7" width="15" height="4"/><polygon points="199.2,184.6 186.7,180 188.3,184.6 186.7,189.6"/></g>
<g transform="translate(1.5,138.3)"><rect x="173.5" y="182.7" width="15" height="4"/><polygon points="199.2,184.6 186.7,180 188.3,184.6 186.7,189.6"/></g>
<g fill="none" stroke="#000" stroke-width="1.2" stroke-linejoin="round"><polygon points="174.4,72.8 195.5,63.2 217.6,72.3 196.5,81.6"/><polygon points="174.4,72.8 196.5,81.6 196.5,108.8 174.4,100"/><polygon points="196.5,81.6 217.6,72.3 217.6,99.5 196.5,108.8"/></g>
<ellipse cx="195.5" cy="68.5" rx="3.4" ry="1.9" transform="rotate(0 195.5 68.5)"/>
<ellipse cx="186.4" cy="72.3" rx="3.4" ry="1.9" transform="rotate(0 186.4 72.3)"/>
<ellipse cx="205.6" cy="72" rx="3.4" ry="1.9" transform="rotate(0 205.6 72)"/>
<ellipse cx="196.5" cy="76.5" rx="3.4" ry="1.9" transform="rotate(0 196.5 76.5)"/>
<ellipse cx="184.8" cy="90.7" rx="1.9" ry="2.8" transform="rotate(0 184.8 90.7)"/>
<ellipse cx="213.1" cy="82.4" rx="1.9" ry="2.9" transform="rotate(20 213.1 82.4)"/>
<ellipse cx="208" cy="90.7" rx="1.9" ry="2.9" transform="rotate(20 208 90.7)"/>
<ellipse cx="203.2" cy="99.2" rx="1.9" ry="2.9" transform="rotate(20 203.2 99.2)"/>
<text x="2.66" y="38.00" font-size="44.00" font-weight="bold" fill="#000" stroke="#000" stroke-width="0.35">a</text>
<text x="50.30" y="70.10" font-size="35.70" fill="#000" stroke="#000" stroke-width="0.35">Input</text>
<text x="49.70" y="114.40" font-size="35.70" fill="#000" stroke="#000" stroke-width="0.35">drive</text>
<text x="134.10" y="101.50" font-size="44.00" fill="#000" stroke="#000" stroke-width="0.35">+</text>
<text x="230.05" y="99.00" font-size="35.00" fill="#000" stroke="#000" stroke-width="0.35">Events</text>
<text x="373.83" y="99.00" font-size="35.00" fill="#000" stroke="#000" stroke-width="0.35">Mean</text>
<text transform="translate(32.80,238.80) rotate(-90)" font-size="30.69" fill="#000" stroke="#000" stroke-width="0.35">λ=0.75</text>
<text transform="translate(35.60,355.43) rotate(-90)" font-size="31.50" fill="#000" stroke="#000" stroke-width="0.35">λ=1</text>
<rect x="44" y="391.5" width="31" height="3.4"/>
<text x="34.66" y="422.80" font-size="30.60" word-spacing="0.46" fill="#000" stroke="#000" stroke-width="0.35">1 Λ</text>
<text x="291.69" y="420.40" font-size="30.60" fill="#000" stroke="#000" stroke-width="0.35">Activity</text>
<rect x="267" y="428.9" width="144.1" height="19" fill="url(#gh)" stroke="#000" stroke-width="1.1"/>
<path d="M267,448v3.6M411.1,448v3.6" stroke="#000" stroke-width="1.1"/>
<text x="240.69" y="480.90" font-size="30.60" fill="#000" stroke="#000" stroke-width="0.35">Low</text>
<text x="383.58" y="480.90" font-size="30.60" fill="#000" stroke="#000" stroke-width="0.35">High</text>
<rect x="682" y="247" width="257.5" height="14.4" fill="#e2e2f8"/>
<line x1="680" y1="254" x2="939.5" y2="254" stroke="#4444d8" stroke-width="3.8"/>
<line x1="810" y1="384" x2="939.5" y2="125" stroke="#808080" stroke-width="4" stroke-dasharray="21 12.5" stroke-dashoffset="0"/>
<polyline points="680.0,257.6 740.0,258.4 790.0,260.0 826.0,261.0 845.0,259.5 860.0,257.0 890.0,251.5 915.0,249.0 939.5,247.4" fill="none" stroke="#147a35" stroke-width="7" stroke-linejoin="round"/>
<path d="M680.00,122.20V384.00H941.30" fill="none" stroke="#000" stroke-width="3.6" stroke-linejoin="miter"/><line x1="680.00" y1="384.00" x2="680.00" y2="401.00" stroke="#000" stroke-width="3.6"/><line x1="745.00" y1="384.00" x2="745.00" y2="401.00" stroke="#000" stroke-width="3.6"/><line x1="810.00" y1="384.00" x2="810.00" y2="401.00" stroke="#000" stroke-width="3.6"/><line x1="875.00" y1="384.00" x2="875.00" y2="401.00" stroke="#000" stroke-width="3.6"/><line x1="939.50" y1="384.00" x2="939.50" y2="401.00" stroke="#000" stroke-width="3.6"/><line x1="663.00" y1="124.00" x2="680.00" y2="124.00" stroke="#000" stroke-width="3.6"/><line x1="663.00" y1="189.00" x2="680.00" y2="189.00" stroke="#000" stroke-width="3.6"/><line x1="663.00" y1="254.00" x2="680.00" y2="254.00" stroke="#000" stroke-width="3.6"/><line x1="663.00" y1="319.00" x2="680.00" y2="319.00" stroke="#000" stroke-width="3.6"/><line x1="663.00" y1="384.00" x2="680.00" y2="384.00" stroke="#000" stroke-width="3.6"/>
<text x="605.93" y="135.80" font-size="31.20" fill="#000" stroke="#000" stroke-width="0.35">1.2</text>
<text x="610.79" y="200.80" font-size="31.20" fill="#000" stroke="#000" stroke-width="0.35">1.1</text>
<text x="605.93" y="265.80" font-size="31.20" fill="#000" stroke="#000" stroke-width="0.35">1.0</text>
<text x="605.93" y="330.80" font-size="31.20" fill="#000" stroke="#000" stroke-width="0.35">0.9</text>
<text x="605.93" y="395.80" font-size="31.20" fill="#000" stroke="#000" stroke-width="0.35">0.8</text>
<text x="655.42" y="433.20" font-size="31.20" fill="#000" stroke="#000" stroke-width="0.35">0.4</text>
<text x="720.42" y="433.20" font-size="31.20" fill="#000" stroke="#000" stroke-width="0.35">0.6</text>
<text x="785.42" y="433.20" font-size="31.20" fill="#000" stroke="#000" stroke-width="0.35">0.8</text>
<text x="848.72" y="433.20" font-size="31.20" fill="#000" stroke="#000" stroke-width="0.35">1.0</text>
<text x="913.22" y="433.20" font-size="31.20" fill="#000" stroke="#000" stroke-width="0.35">1.2</text>
<text x="670.00" y="81.00" font-size="35.13" word-spacing="0.00" fill="#000" stroke="#000" stroke-width="0.35">Individual events</text>
<text x="645.70" y="481.80" font-size="35.21" word-spacing="0.00" fill="#000" stroke="#000" stroke-width="0.35">Input wavelength (Λ)</text>
<text transform="translate(581.70,430.00) rotate(-90)" font-size="35.00" word-spacing="0.00" fill="#000" stroke="#000" stroke-width="0.35">Output wavelength (Λ)</text>
<text x="690.70" y="149.00" font-size="30.96" word-spacing="0.00" fill="#147a35" stroke="#147a35" stroke-width="0.35">Structured input</text>
<text x="690.67" y="184.30" font-size="30.60" fill="#4444d8" stroke="#4444d8" stroke-width="0.35">Control</text>
<text x="685.00" y="325.00" font-size="30.86" word-spacing="0.00" fill="#8a8a8a" stroke="#8a8a8a" stroke-width="0.35">Unity (x=y)</text>
<text x="515.96" y="38.00" font-size="44.00" font-weight="bold" fill="#000" stroke="#000" stroke-width="0.35">b</text>
<rect x="1195.1" y="246.3" width="259.9000000000001" height="14.4" fill="#e2e2f8"/>
<line x1="1193.1" y1="253.5" x2="1455" y2="253.5" stroke="#4444d8" stroke-width="3.8"/>
<line x1="1324" y1="384" x2="1455" y2="124" stroke="#808080" stroke-width="4" stroke-dasharray="21 12.7" stroke-dashoffset="0"/>
<polygon points="1196.8,243.7 1232.3,241.8 1298.5,283.8 1330.5,273.6 1361.3,252.4 1392.1,239.6 1428.0,222.9 1455.0,190.8 1455.0,233.2 1428.0,239.6 1392.1,252.4 1361.3,275.5 1330.5,310.2 1298.5,322.5 1266.8,302.9 1232.3,267.5 1196.8,248.8" fill="#c3ead0"/>
<clipPath id="cc"><rect x="1193.1" y="100" width="261.9000000000001" height="300"/></clipPath>
<polyline clip-path="url(#cc)" points="1196.8,245.0 1233.2,254.4 1298.5,302.9 1330.5,292.2 1361.3,264.0 1392.1,246.0 1428.0,231.2 1455.0,212.0" fill="none" stroke="#147a35" stroke-width="7" stroke-linejoin="miter"/>
<path d="M1193.10,122.20V384.00H1456.80" fill="none" stroke="#000" stroke-width="3.6" stroke-linejoin="miter"/><line x1="1193.10" y1="384.00" x2="1193.10" y2="401.00" stroke="#000" stroke-width="3.6"/><line x1="1258.60" y1="384.00" x2="1258.60" y2="401.00" stroke="#000" stroke-width="3.6"/><line x1="1324.00" y1="384.00" x2="1324.00" y2="401.00" stroke="#000" stroke-width="3.6"/><line x1="1389.50" y1="384.00" x2="1389.50" y2="401.00" stroke="#000" stroke-width="3.6"/><line x1="1455.00" y1="384.00" x2="1455.00" y2="401.00" stroke="#000" stroke-width="3.6"/><line x1="1176.10" y1="124.00" x2="1193.10" y2="124.00" stroke="#000" stroke-width="3.6"/><line x1="1176.10" y1="189.00" x2="1193.10" y2="189.00" stroke="#000" stroke-width="3.6"/><line x1="1176.10" y1="254.00" x2="1193.10" y2="254.00" stroke="#000" stroke-width="3.6"/><line x1="1176.10" y1="319.00" x2="1193.10" y2="319.00" stroke="#000" stroke-width="3.6"/><line x1="1176.10" y1="384.00" x2="1193.10" y2="384.00" stroke="#000" stroke-width="3.6"/>
<text x="1119.93" y="135.80" font-size="31.20" fill="#000" stroke="#000" stroke-width="0.35">1.2</text>
<text x="1124.79" y="200.80" font-size="31.20" fill="#000" stroke="#000" stroke-width="0.35">1.1</text>
<text x="1119.93" y="265.80" font-size="31.20" fill="#000" stroke="#000" stroke-width="0.35">1.0</text>
<text x="1119.93" y="330.80" font-size="31.20" fill="#000" stroke="#000" stroke-width="0.35">0.9</text>
<text x="1119.93" y="395.80" font-size="31.20" fill="#000" stroke="#000" stroke-width="0.35">0.8</text>
<text x="1168.52" y="433.20" font-size="31.20" fill="#000" stroke="#000" stroke-width="0.35">0.4</text>
<text x="1234.02" y="433.20" font-size="31.20" fill="#000" stroke="#000" stroke-width="0.35">0.6</text>
<text x="1299.42" y="433.20" font-size="31.20" fill="#000" stroke="#000" stroke-width="0.35">0.8</text>
<text x="1363.22" y="433.20" font-size="31.20" fill="#000" stroke="#000" stroke-width="0.35">1.0</text>
<text x="1428.72" y="433.20" font-size="31.20" fill="#000" stroke="#000" stroke-width="0.35">1.2</text>
<text x="1205.70" y="81.00" font-size="35.01" word-spacing="0.00" fill="#000" stroke="#000" stroke-width="0.35">Mean activity</text>
<text x="1165.70" y="481.80" font-size="35.21" word-spacing="0.00" fill="#000" stroke="#000" stroke-width="0.35">Input wavelength (Λ)</text>
<text transform="translate(1099.00,430.00) rotate(-90)" font-size="35.00" word-spacing="0.00" fill="#000" stroke="#000" stroke-width="0.35">Output wavelength (Λ)</text>
<text x="1059.42" y="38.00" font-size="44.00" font-weight="bold" fill="#000" stroke="#000" stroke-width="0.35">c</text>
<g transform="translate(160,596) scale(0.17492)"><clipPath id="c7"><rect x="88" y="94" width="1032" height="1538"/></clipPath><rect x="88" y="94" width="1032" height="1538" fill="#000"/><g clip-path="url(#c7)"><g filter="url(#bS2)"><g fill="#fff"><polyline points="320,125 290,190 225,230 250,285" fill="none" stroke="#fff" stroke-width="75.64" stroke-linecap="round" stroke-linejoin="round"/><ellipse cx="312" cy="350" rx="50.9" ry="40.8"/><ellipse cx="460" cy="130" rx="31.7" ry="43.0"/><polyline points="625,135 700,170 715,200" fill="none" stroke="#fff" stroke-width="82.96" stroke-linecap="round" stroke-linejoin="round"/><polyline points="850,142 905,120" fill="none" stroke="#fff" stroke-width="58.56" stroke-linecap="round" stroke-linejoin="round"/><polyline points="1000,200 1090,150" fill="none" stroke="#fff" stroke-width="95.16" stroke-linecap="round" stroke-linejoin="round"/><polyline points="545,235 510,345" fill="none" stroke="#fff" stroke-width="95.16" stroke-linecap="round" stroke-linejoin="round"/><polyline points="560,320 660,385 720,450" fill="none" stroke="#fff" stroke-width="67.1" stroke-linecap="round" stroke-linejoin="round"/><polyline points="755,300 850,340 915,340" fill="none" stroke="#fff" stroke-width="80.52" stroke-linecap="round" stroke-linejoin="round"/><ellipse cx="1075" cy="345" rx="34.0" ry="31.7"/><polyline points="115,395 160,480 200,580 260,680 280,780 235,850 130,868" fill="none" stroke="#fff" stroke-width="70.76" stroke-linecap="round" stroke-linejoin="round"/><polyline points="112,790 130,850" fill="none" stroke="#fff" stroke-width="48.8" stroke-linecap="round" stroke-linejoin="round"/><polyline points="445,455 400,510" fill="none" stroke="#fff" stroke-width="80.52" stroke-linecap="round" stroke-linejoin="round"/><polyline points="955,480 1085,500" fill="none" stroke="#fff" stroke-width="70.76" stroke-linecap="round" stroke-linejoin="round"/><polyline points="535,550 640,560 780,585" fill="none" stroke="#fff" stroke-width="75.64" stroke-linecap="round" stroke-linejoin="round"/><ellipse cx="410" cy="645" rx="39.6" ry="63.4"/><polyline points="650,665 688,718" fill="none" stroke="#fff" stroke-width="39.04" stroke-linecap="round" stroke-linejoin="round"/><polyline points="835,690 950,640 1095,660" fill="none" stroke="#fff" stroke-width="68.32" stroke-linecap="round" stroke-linejoin="round"/><ellipse cx="850" cy="700" rx="45.3" ry="45.3"/><polyline points="515,725 600,800 628,865" fill="none" stroke="#fff" stroke-width="58.56" stroke-linecap="round" stroke-linejoin="round"/><polyline points="405,805 460,880 508,965" fill="none" stroke="#fff" stroke-width="63.44" stroke-linecap="round" stroke-linejoin="round"/><ellipse cx="770" cy="875" rx="67.9" ry="56.6"/><polyline points="1000,785 950,870 962,1035" fill="none" stroke="#fff" stroke-width="56.12" stroke-linecap="round" stroke-linejoin="round"/><ellipse cx="1095" cy="950" rx="31.7" ry="39.6"/><ellipse cx="345" cy="965" rx="39.6" ry="63.4" transform="rotate(-20 345 965)"/><ellipse cx="205" cy="1000" rx="45.3" ry="58.9" transform="rotate(-30 205 1000)"/><polyline points="822,1005 815,1045" fill="none" stroke="#fff" stroke-width="39.04" stroke-linecap="round" stroke-linejoin="round"/><polyline points="435,1100 570,1140 680,1100 708,1050" fill="none" stroke="#fff" stroke-width="70.76" stroke-linecap="round" stroke-linejoin="round"/><polyline points="115,1105 200,1180 315,1150" fill="none" stroke="#fff" stroke-width="70.76" stroke-linecap="round" stroke-linejoin="round"/><polyline points="1080,1095 1020,1135 1000,1215" fill="none" stroke="#fff" stroke-width="68.32" stroke-linecap="round" stroke-linejoin="round"/><polyline points="605,1280 720,1250 835,1200" fill="none" stroke="#fff" stroke-width="80.52" stroke-linecap="round" stroke-linejoin="round"/><polyline points="410,1245 335,1340 322,1440 235,1470" fill="none" stroke="#fff" stroke-width="82.96" stroke-linecap="round" stroke-linejoin="round"/><ellipse cx="505" cy="1370" rx="39.6" ry="63.4"/><polyline points="112,1295 128,1365" fill="none" stroke="#fff" stroke-width="56.12" stroke-linecap="round" stroke-linejoin="round"/><polyline points="660,1440 720,1490 828,1498 830,1385" fill="none" stroke="#fff" stroke-width="68.32" stroke-linecap="round" stroke-linejoin="round"/><polyline points="1088,1295 1012,1370 990,1480 962,1555" fill="none" stroke="#fff" stroke-width="56.12" stroke-linecap="round" stroke-linejoin="round"/><polyline points="425,1530 518,1560 520,1605" fill="none" stroke="#fff" stroke-width="70.76" stroke-linecap="round" stroke-linejoin="round"/><ellipse cx="120" cy="1595" rx="36.2" ry="43.0"/><ellipse cx="290" cy="1600" rx="43.0" ry="31.7"/><ellipse cx="1100" cy="1520" rx="15.8" ry="34.0"/><ellipse cx="1000" cy="1612" rx="24.9" ry="20.4"/><ellipse cx="625" cy="1615" rx="24.9" ry="13.6"/><ellipse cx="105" cy="215" rx="15.8" ry="28.3"/><ellipse cx="105" cy="620" rx="15.8" ry="34.0"/></g></g></g></g>
<rect x="170.5" y="607.3" width="190.8" height="278.2" rx="4" fill="none" stroke="#69bd72" stroke-width="12.2"/>
<g transform="translate(160,915) scale(0.17492)"><clipPath id="c8"><rect x="86" y="90" width="1034" height="1540"/></clipPath><rect x="86" y="90" width="1034" height="1540" fill="#000"/><g clip-path="url(#c8)"><g filter="url(#bS2)"><g fill="#fff"><polygon points="180,97 305,97 270,155 210,155" stroke="#fff" stroke-width="8" stroke-linejoin="round"/><ellipse cx="578" cy="140" rx="35.0" ry="52.0"/><polygon points="745,97 800,97 870,170 990,185 1050,290 1110,340 1110,440 1050,340 960,250 860,245 800,240 750,180" stroke="#fff" stroke-width="8" stroke-linejoin="round"/><polygon points="125,290 190,250 240,290 310,330 390,260 420,235 450,270 445,390 250,395 180,340" stroke="#fff" stroke-width="8" stroke-linejoin="round"/><ellipse cx="650" cy="325" rx="46.0" ry="82.0" transform="rotate(-20 650 325)"/><ellipse cx="855" cy="440" rx="75.0" ry="66.0"/><ellipse cx="550" cy="530" rx="82.0" ry="45.0" transform="rotate(5 550 530)"/><polyline points="185,570 112,675" fill="none" stroke="#fff" stroke-width="78.0" stroke-linecap="butt" stroke-linejoin="round"/><polygon points="345,590 420,580 370,670" stroke="#fff" stroke-width="8" stroke-linejoin="round"/><polygon points="960,570 1020,545 1060,580 1030,620 960,620" stroke="#fff" stroke-width="8" stroke-linejoin="round"/><ellipse cx="765" cy="675" rx="62.0" ry="52.0"/><ellipse cx="540" cy="775" rx="72.0" ry="56.0" transform="rotate(-20 540 775)"/><polygon points="870,830 910,790 1010,785 1110,750 1110,860 1030,820 940,860 880,860" stroke="#fff" stroke-width="8" stroke-linejoin="round"/><polygon points="105,890 200,850 260,810 310,760 355,735 355,810 310,890 260,940 150,945" stroke="#fff" stroke-width="8" stroke-linejoin="round"/><ellipse cx="757" cy="920" rx="36.0" ry="62.0"/><polygon points="450,980 500,935 560,950 610,1040 610,1110 560,1105 500,1050 450,1030" stroke="#fff" stroke-width="8" stroke-linejoin="round"/><ellipse cx="975" cy="1078" rx="92.0" ry="52.0"/><polygon points="93,1080 170,1090 215,1250 215,1380 175,1460 125,1455 130,1330 150,1220 93,1160" stroke="#fff" stroke-width="8" stroke-linejoin="round"/><polygon points="325,1040 375,1040 390,1150 435,1220 435,1310 390,1310 330,1230" stroke="#fff" stroke-width="8" stroke-linejoin="round"/><polygon points="545,1290 600,1240 610,1330 545,1330" stroke="#fff" stroke-width="8" stroke-linejoin="round"/><ellipse cx="783" cy="1275" rx="42.0" ry="90.0"/><ellipse cx="1015" cy="1330" rx="72.0" ry="50.0" transform="rotate(-20 1015 1330)"/><polyline points="415,1405 335,1505" fill="none" stroke="#fff" stroke-width="70.0" stroke-linecap="butt" stroke-linejoin="round"/><ellipse cx="625" cy="1530" rx="56.0" ry="72.0" transform="rotate(15 625 1530)"/><polygon points="815,1622 840,1540 880,1520 925,1545 920,1600 905,1622" stroke="#fff" stroke-width="8" stroke-linejoin="round"/></g></g></g></g>
<rect x="170.5" y="926" width="190.8" height="278.5" rx="4" fill="none" stroke="#3ca55c" stroke-width="12.2"/>
<text x="-0.44" y="553.20" font-size="44.00" font-weight="bold" fill="#000" stroke="#000" stroke-width="0.35">d</text>
<text x="195.30" y="568.80" font-size="35.20" fill="#000" stroke="#000" stroke-width="0.35">Stimulus</text>
<text transform="translate(90.30,1049.50) rotate(-90)" font-size="35.26" word-spacing="0.00" fill="#000" stroke="#000" stroke-width="0.35">Random bandpass</text>
<text transform="translate(138.50,831.20) rotate(-90)" font-size="30.60" word-spacing="2.76" stroke="#000" stroke-width="0.35">λ<tspan font-size="24.48" dy="5.5">i</tspan><tspan dy="-5.5">=0.51 mm</tspan></text>
<text transform="translate(138.50,1154.40) rotate(-90)" font-size="30.60" word-spacing="1.86" stroke="#000" stroke-width="0.35">λ<tspan font-size="24.48" dy="5.5">i</tspan><tspan dy="-5.5">=0.70 mm</tspan></text>
<g transform="translate(525,595) scale(0.16906)"><clipPath id="c9"><polygon points="350,75 660,75 690,60 990,75 1030,95 1045,150 1075,230 1100,320 1100,540 1080,590 1040,640 1000,700 985,760 1000,850 1000,1180 985,1260 985,1540 975,1600 960,1665 800,1665 740,1655 210,1645 90,1630 60,1590 60,1480 95,1280 150,1160 180,1100 175,700 175,300 185,200 215,140 300,110"/></clipPath><g clip-path="url(#c9)"><g filter="url(#f5)"><rect x="-200" y="-200" width="1600" height="2100" fill="#747474"/><ellipse cx="400" cy="110" rx="77.76" ry="38.88" transform="rotate(-25 400 110)" fill="#fff" fill-opacity="1"/><ellipse cx="575" cy="240" rx="45.36" ry="45.36" fill="#fff" fill-opacity="0.6"/><ellipse cx="395" cy="415" rx="62.64" ry="59.400000000000006" fill="#fff" fill-opacity="1"/><ellipse cx="560" cy="440" rx="45.36" ry="73.44" transform="rotate(30 560 440)" fill="#fff" fill-opacity="1"/><ellipse cx="215" cy="575" rx="45.36" ry="48.6" fill="#fff" fill-opacity="1"/><ellipse cx="880" cy="560" rx="178.20000000000002" ry="48.6" transform="rotate(-20 880 560)" fill="#fff" fill-opacity="0.75"/><ellipse cx="520" cy="800" rx="51.84" ry="51.84" fill="#fff" fill-opacity="0.45"/><ellipse cx="345" cy="905" rx="66.96000000000001" ry="45.36" fill="#fff" fill-opacity="1"/><ellipse cx="790" cy="870" rx="124.2" ry="48.6" transform="rotate(10 790 870)" fill="#fff" fill-opacity="0.7"/><ellipse cx="770" cy="1075" rx="124.2" ry="56.160000000000004" transform="rotate(-20 770 1075)" fill="#fff" fill-opacity="1"/><ellipse cx="600" cy="1150" rx="56.160000000000004" ry="56.160000000000004" fill="#fff" fill-opacity="0.4"/><ellipse cx="330" cy="1275" rx="95.04" ry="66.96000000000001" transform="rotate(15 330 1275)" fill="#fff" fill-opacity="1"/><ellipse cx="495" cy="1350" rx="45.36" ry="45.36" fill="#fff" fill-opacity="0.45"/><ellipse cx="680" cy="1490" rx="66.96000000000001" ry="45.36" transform="rotate(25 680 1490)" fill="#fff" fill-opacity="0.8"/><ellipse cx="900" cy="1390" rx="77.76" ry="45.36" fill="#fff" fill-opacity="0.45"/><ellipse cx="165" cy="1565" rx="54.0" ry="77.76" transform="rotate(35 165 1565)" fill="#fff" fill-opacity="1"/><ellipse cx="190" cy="870" rx="23.76" ry="56.160000000000004" fill="#fff" fill-opacity="0.5"/><ellipse cx="430" cy="1600" rx="45.36" ry="45.36" fill="#fff" fill-opacity="0.35"/><ellipse cx="440" cy="540" rx="56.160000000000004" ry="56.160000000000004" fill="#000" fill-opacity="0.5"/><ellipse cx="790" cy="1210" rx="59.400000000000006" ry="59.400000000000006" fill="#000" fill-opacity="0.55"/><ellipse cx="992" cy="1000" rx="17.28" ry="108.0" fill="#000" fill-opacity="0.7"/><ellipse cx="870" cy="1480" rx="59.400000000000006" ry="54.0" fill="#000" fill-opacity="0.45"/><ellipse cx="400" cy="1430" rx="56.160000000000004" ry="56.160000000000004" fill="#000" fill-opacity="0.4"/><ellipse cx="650" cy="470" rx="45.36" ry="45.36" fill="#000" fill-opacity="0.35"/><ellipse cx="330" cy="250" rx="56.160000000000004" ry="56.160000000000004" fill="#000" fill-opacity="0.3"/><ellipse cx="1020" cy="380" rx="56.160000000000004" ry="56.160000000000004" fill="#000" fill-opacity="0.3"/></g></g></g>
<g transform="translate(785,595) scale(0.16906)"><clipPath id="c10"><polygon points="350,75 660,75 690,60 990,75 1030,95 1045,150 1075,230 1100,320 1100,540 1080,590 1040,640 1000,700 985,760 1000,850 1000,1180 985,1260 985,1540 975,1600 960,1665 800,1665 740,1655 210,1645 90,1630 60,1590 60,1480 95,1280 150,1160 180,1100 175,700 175,300 185,200 215,140 300,110"/></clipPath><g clip-path="url(#c10)"><g filter="url(#f6)"><rect x="-200" y="-200" width="1600" height="2100" fill="#747474"/><ellipse cx="305" cy="270" rx="77.76" ry="95.04" transform="rotate(-30 305 270)" fill="#fff" fill-opacity="1"/><ellipse cx="505" cy="530" rx="49.68000000000001" ry="66.96000000000001" fill="#fff" fill-opacity="0.9"/><ellipse cx="370" cy="660" rx="99.36000000000001" ry="43.2" transform="rotate(15 370 660)" fill="#fff" fill-opacity="1"/><ellipse cx="935" cy="640" rx="95.04" ry="54.0" transform="rotate(-25 935 640)" fill="#fff" fill-opacity="1"/><ellipse cx="1010" cy="340" rx="99.36000000000001" ry="77.76" fill="#fff" fill-opacity="0.55"/><ellipse cx="410" cy="1010" rx="124.2" ry="49.68000000000001" transform="rotate(-25 410 1010)" fill="#fff" fill-opacity="1"/><ellipse cx="910" cy="925" rx="49.68000000000001" ry="49.68000000000001" fill="#fff" fill-opacity="0.75"/><ellipse cx="720" cy="1030" rx="56.160000000000004" ry="56.160000000000004" fill="#fff" fill-opacity="0.45"/><ellipse cx="885" cy="1190" rx="66.96000000000001" ry="66.96000000000001" fill="#fff" fill-opacity="0.65"/><ellipse cx="570" cy="1280" rx="77.76" ry="66.96000000000001" fill="#fff" fill-opacity="0.95"/><ellipse cx="240" cy="1390" rx="60.480000000000004" ry="60.480000000000004" fill="#fff" fill-opacity="0.65"/><ellipse cx="340" cy="1500" rx="99.36000000000001" ry="54.0" fill="#fff" fill-opacity="0.6"/><ellipse cx="830" cy="1470" rx="108.0" ry="64.80000000000001" fill="#fff" fill-opacity="0.4"/><ellipse cx="200" cy="1140" rx="38.88" ry="38.88" fill="#fff" fill-opacity="0.4"/><ellipse cx="450" cy="1450" rx="56.160000000000004" ry="56.160000000000004" fill="#fff" fill-opacity="0.4"/><ellipse cx="230" cy="150" rx="32.400000000000006" ry="32.400000000000006" fill="#000" fill-opacity="0.8"/><ellipse cx="330" cy="430" rx="66.96000000000001" ry="66.96000000000001" fill="#000" fill-opacity="0.45"/><ellipse cx="600" cy="420" rx="56.160000000000004" ry="56.160000000000004" fill="#000" fill-opacity="0.35"/><ellipse cx="250" cy="780" rx="77.76" ry="77.76" fill="#000" fill-opacity="0.3"/><ellipse cx="400" cy="1610" rx="45.36" ry="45.36" fill="#000" fill-opacity="0.5"/><ellipse cx="800" cy="1590" rx="56.160000000000004" ry="56.160000000000004" fill="#000" fill-opacity="0.4"/><ellipse cx="992" cy="1050" rx="17.28" ry="129.60000000000002" fill="#000" fill-opacity="0.6"/><ellipse cx="620" cy="1440" rx="45.36" ry="45.36" fill="#000" fill-opacity="0.35"/><ellipse cx="1060" cy="450" rx="32.400000000000006" ry="64.80000000000001" fill="#000" fill-opacity="0.4"/></g></g></g>
<g transform="translate(525,916) scale(0.16906)"><clipPath id="c11"><polygon points="350,75 660,75 690,60 990,75 1030,95 1045,150 1075,230 1100,320 1100,540 1080,590 1040,640 1000,700 985,760 1000,850 1000,1180 985,1260 985,1540 975,1600 960,1665 800,1665 740,1655 210,1645 90,1630 60,1590 60,1480 95,1280 150,1160 180,1100 175,700 175,300 185,200 215,140 300,110"/></clipPath><g clip-path="url(#c11)"><g filter="url(#f7)"><rect x="-200" y="-200" width="1600" height="2100" fill="#747474"/><ellipse cx="450" cy="150" rx="56.160000000000004" ry="56.160000000000004" fill="#fff" fill-opacity="0.45"/><ellipse cx="1010" cy="210" rx="49.68000000000001" ry="66.96000000000001" fill="#fff" fill-opacity="0.9"/><ellipse cx="630" cy="360" rx="113.4" ry="54.0" transform="rotate(-30 630 360)" fill="#fff" fill-opacity="0.95"/><ellipse cx="370" cy="490" rx="77.76" ry="64.80000000000001" transform="rotate(-30 370 490)" fill="#fff" fill-opacity="1"/><ellipse cx="900" cy="410" rx="60.480000000000004" ry="60.480000000000004" fill="#fff" fill-opacity="0.45"/><ellipse cx="1000" cy="570" rx="71.28" ry="43.2" transform="rotate(-20 1000 570)" fill="#fff" fill-opacity="0.95"/><ellipse cx="795" cy="635" rx="66.96000000000001" ry="49.68000000000001" fill="#fff" fill-opacity="1"/><ellipse cx="290" cy="750" rx="56.160000000000004" ry="56.160000000000004" fill="#fff" fill-opacity="0.9"/><ellipse cx="525" cy="740" rx="77.76" ry="66.96000000000001" fill="#fff" fill-opacity="1"/><ellipse cx="200" cy="330" rx="38.88" ry="38.88" fill="#fff" fill-opacity="0.4"/><ellipse cx="200" cy="950" rx="38.88" ry="38.88" fill="#fff" fill-opacity="0.4"/><ellipse cx="800" cy="980" rx="108.0" ry="54.0" fill="#fff" fill-opacity="0.4"/><ellipse cx="550" cy="1040" rx="45.36" ry="45.36" fill="#fff" fill-opacity="0.55"/><ellipse cx="320" cy="1190" rx="88.56" ry="60.480000000000004" fill="#fff" fill-opacity="1"/><ellipse cx="575" cy="1330" rx="60.480000000000004" ry="71.28" fill="#fff" fill-opacity="0.9"/><ellipse cx="880" cy="1320" rx="66.96000000000001" ry="66.96000000000001" fill="#fff" fill-opacity="0.6"/><ellipse cx="160" cy="1300" rx="43.2" ry="77.76" transform="rotate(30 160 1300)" fill="#fff" fill-opacity="0.6"/><ellipse cx="120" cy="1450" rx="49.68000000000001" ry="49.68000000000001" fill="#fff" fill-opacity="0.85"/><ellipse cx="310" cy="1540" rx="95.04" ry="60.480000000000004" fill="#fff" fill-opacity="1"/><ellipse cx="650" cy="1480" rx="54.0" ry="77.76" fill="#fff" fill-opacity="0.6"/><ellipse cx="890" cy="1585" rx="84.24000000000001" ry="54.0" transform="rotate(-15 890 1585)" fill="#fff" fill-opacity="1"/><ellipse cx="330" cy="940" rx="108.0" ry="43.2" transform="rotate(-30 330 940)" fill="#fff" fill-opacity="0.35"/><ellipse cx="290" cy="1370" rx="99.36000000000001" ry="77.76" fill="#000" fill-opacity="0.6"/><ellipse cx="840" cy="1140" rx="60.480000000000004" ry="60.480000000000004" fill="#000" fill-opacity="0.6"/><ellipse cx="850" cy="1470" rx="108.0" ry="56.160000000000004" fill="#000" fill-opacity="0.65"/><ellipse cx="400" cy="780" rx="32.400000000000006" ry="32.400000000000006" fill="#000" fill-opacity="0.3"/><ellipse cx="500" cy="585" rx="216.0" ry="19.44" fill="#000" fill-opacity="0.45"/><ellipse cx="720" cy="1600" rx="45.36" ry="45.36" fill="#000" fill-opacity="0.3"/></g></g></g>
<g transform="translate(785,916) scale(0.16906)"><clipPath id="c12"><polygon points="350,75 660,75 690,60 990,75 1030,95 1045,150 1075,230 1100,320 1100,540 1080,590 1040,640 1000,700 985,760 1000,850 1000,1180 985,1260 985,1540 975,1600 960,1665 800,1665 740,1655 210,1645 90,1630 60,1590 60,1480 95,1280 150,1160 180,1100 175,700 175,300 185,200 215,140 300,110"/></clipPath><g clip-path="url(#c12)"><g filter="url(#f8)"><rect x="-200" y="-200" width="1600" height="2100" fill="#747474"/><ellipse cx="400" cy="120" rx="99.36000000000001" ry="32.400000000000006" transform="rotate(-20 400 120)" fill="#fff" fill-opacity="0.65"/><ellipse cx="850" cy="160" rx="162.0" ry="64.80000000000001" fill="#fff" fill-opacity="0.4"/><ellipse cx="560" cy="235" rx="45.36" ry="45.36" fill="#fff" fill-opacity="0.4"/><ellipse cx="230" cy="325" rx="49.68000000000001" ry="60.480000000000004" fill="#fff" fill-opacity="0.9"/><ellipse cx="425" cy="430" rx="81.0" ry="66.96000000000001" fill="#fff" fill-opacity="1"/><ellipse cx="560" cy="395" rx="86.4" ry="38.88" transform="rotate(-30 560 395)" fill="#fff" fill-opacity="1"/><ellipse cx="780" cy="595" rx="88.56" ry="43.2" transform="rotate(-40 780 595)" fill="#fff" fill-opacity="0.95"/><ellipse cx="1010" cy="560" rx="66.96000000000001" ry="38.88" fill="#fff" fill-opacity="0.6"/><ellipse cx="310" cy="730" rx="49.68000000000001" ry="49.68000000000001" fill="#fff" fill-opacity="0.45"/><ellipse cx="545" cy="785" rx="60.480000000000004" ry="66.96000000000001" fill="#fff" fill-opacity="1"/><ellipse cx="200" cy="900" rx="32.400000000000006" ry="56.160000000000004" fill="#fff" fill-opacity="0.65"/><ellipse cx="345" cy="915" rx="71.28" ry="43.2" transform="rotate(-10 345 915)" fill="#fff" fill-opacity="1"/><ellipse cx="820" cy="1030" rx="66.96000000000001" ry="56.160000000000004" fill="#fff" fill-opacity="0.6"/><ellipse cx="930" cy="1100" rx="32.400000000000006" ry="32.400000000000006" fill="#fff" fill-opacity="0.4"/><ellipse cx="370" cy="1240" rx="116.64000000000001" ry="64.80000000000001" transform="rotate(-10 370 1240)" fill="#fff" fill-opacity="1"/><ellipse cx="215" cy="1540" rx="54.0" ry="66.96000000000001" fill="#fff" fill-opacity="1"/><ellipse cx="660" cy="1490" rx="49.68000000000001" ry="77.76" fill="#fff" fill-opacity="0.9"/><ellipse cx="870" cy="1360" rx="118.80000000000001" ry="54.0" fill="#fff" fill-opacity="0.35"/><ellipse cx="550" cy="1050" rx="56.160000000000004" ry="56.160000000000004" fill="#fff" fill-opacity="0.2"/><ellipse cx="900" cy="1600" rx="45.36" ry="45.36" fill="#fff" fill-opacity="0.4"/><ellipse cx="400" cy="240" rx="77.76" ry="66.96000000000001" fill="#000" fill-opacity="0.55"/><ellipse cx="460" cy="570" rx="56.160000000000004" ry="32.400000000000006" fill="#000" fill-opacity="0.6"/><ellipse cx="1000" cy="460" rx="77.76" ry="56.160000000000004" fill="#000" fill-opacity="0.55"/><ellipse cx="850" cy="1160" rx="66.96000000000001" ry="45.36" fill="#000" fill-opacity="0.55"/><ellipse cx="860" cy="1470" rx="108.0" ry="60.480000000000004" fill="#000" fill-opacity="0.7"/><ellipse cx="280" cy="1390" rx="108.0" ry="45.36" fill="#000" fill-opacity="0.3"/><ellipse cx="690" cy="430" rx="66.96000000000001" ry="32.400000000000006" transform="rotate(-30 690 430)" fill="#000" fill-opacity="0.35"/><ellipse cx="400" cy="800" rx="45.36" ry="45.36" fill="#000" fill-opacity="0.3"/></g></g></g>
<text x="458.57" y="553.10" font-size="44.00" font-weight="bold" fill="#000" stroke="#000" stroke-width="0.35">e</text>
<text x="676.15" y="568.50" font-size="35.20" fill="#000" stroke="#000" stroke-width="0.35">Events</text>
<rect x="849.8" y="884" width="75.7" height="6.9"/>
<text x="852.66" y="918.00" font-size="30.60" word-spacing="-2.86" fill="#000" stroke="#000" stroke-width="0.35">1 mm</text>
<rect x="1011" y="826" width="21.5" height="161" fill="url(#gv)"/>
<path d="M1011,826.5H1036.5M1032.5,826V987M1011,986.5H1036.5" fill="none" stroke="#000" stroke-width="1.1"/>
<text x="1051.00" y="835.50" font-size="31.20" fill="#000" stroke="#000" stroke-width="0.35">3</text>
<text x="1045.00" y="997.60" font-size="31.20" fill="#000" stroke="#000" stroke-width="0.35">-3</text>
<text transform="translate(1002.50,951.90) rotate(-90)" font-size="30.60" fill="#000" stroke="#000" stroke-width="0.35">z-score</text>
<g transform="translate(1170,595) scale(0.16906)"><clipPath id="c13"><polygon points="365,75 675,75 705,60 1005,75 1045,95 1060,150 1090,230 1115,320 1115,540 1095,590 1055,640 1015,700 1000,760 1015,850 1015,1180 1000,1260 1000,1540 990,1600 975,1665 815,1665 755,1655 225,1645 105,1630 75,1590 75,1480 110,1280 165,1160 195,1100 190,700 190,300 200,200 230,140 315,110"/></clipPath><g clip-path="url(#c13)"><g filter="url(#f9)"><rect x="-200" y="-200" width="1600" height="2100" fill="#8e8e8e"/><ellipse cx="560" cy="240" rx="56.160000000000004" ry="56.160000000000004" fill="#fff" fill-opacity="0.6"/><ellipse cx="720" cy="110" rx="66.96000000000001" ry="43.2" fill="#fff" fill-opacity="0.6"/><ellipse cx="850" cy="270" rx="88.56" ry="43.2" fill="#fff" fill-opacity="0.6"/><ellipse cx="1020" cy="180" rx="43.2" ry="66.96000000000001" fill="#fff" fill-opacity="0.6"/><ellipse cx="720" cy="410" rx="56.160000000000004" ry="60.480000000000004" fill="#fff" fill-opacity="0.8"/><ellipse cx="400" cy="500" rx="56.160000000000004" ry="56.160000000000004" fill="#fff" fill-opacity="0.6"/><ellipse cx="1030" cy="480" rx="77.76" ry="54.0" fill="#fff" fill-opacity="1"/><ellipse cx="960" cy="610" rx="88.56" ry="49.68000000000001" transform="rotate(-20 960 610)" fill="#fff" fill-opacity="1"/><ellipse cx="790" cy="590" rx="66.96000000000001" ry="56.160000000000004" fill="#fff" fill-opacity="0.6"/><ellipse cx="520" cy="720" rx="66.96000000000001" ry="43.2" fill="#fff" fill-opacity="0.55"/><ellipse cx="440" cy="830" rx="38.88" ry="38.88" fill="#fff" fill-opacity="0.4"/><ellipse cx="790" cy="870" rx="99.36000000000001" ry="49.68000000000001" fill="#fff" fill-opacity="0.9"/><ellipse cx="720" cy="1080" rx="77.76" ry="66.96000000000001" fill="#fff" fill-opacity="0.9"/><ellipse cx="900" cy="1230" rx="66.96000000000001" ry="66.96000000000001" fill="#fff" fill-opacity="0.9"/><ellipse cx="660" cy="1280" rx="99.36000000000001" ry="43.2" transform="rotate(-20 660 1280)" fill="#fff" fill-opacity="0.9"/><ellipse cx="870" cy="1400" rx="77.76" ry="84.24000000000001" fill="#fff" fill-opacity="1"/><ellipse cx="340" cy="1360" rx="66.96000000000001" ry="56.160000000000004" fill="#fff" fill-opacity="0.6"/><ellipse cx="520" cy="1400" rx="43.2" ry="66.96000000000001" fill="#fff" fill-opacity="0.6"/><ellipse cx="700" cy="1520" rx="88.56" ry="54.0" transform="rotate(15 700 1520)" fill="#fff" fill-opacity="1"/><ellipse cx="290" cy="1480" rx="45.36" ry="45.36" fill="#fff" fill-opacity="0.4"/><ellipse cx="900" cy="1620" rx="43.2" ry="56.160000000000004" fill="#fff" fill-opacity="0.9"/><ellipse cx="390" cy="1290" rx="32.400000000000006" ry="32.400000000000006" fill="#fff" fill-opacity="0.4"/><ellipse cx="940" cy="1010" rx="54.0" ry="88.56" fill="#fff" fill-opacity="0.5"/><ellipse cx="930" cy="140" rx="66.96000000000001" ry="32.400000000000006" transform="rotate(-40 930 140)" fill="#000" fill-opacity="1"/><ellipse cx="1035" cy="365" rx="71.28" ry="49.68000000000001" fill="#000" fill-opacity="1"/><ellipse cx="840" cy="420" rx="49.68000000000001" ry="66.96000000000001" fill="#000" fill-opacity="0.8"/><ellipse cx="910" cy="520" rx="38.88" ry="43.2" fill="#000" fill-opacity="0.8"/><ellipse cx="490" cy="580" rx="45.36" ry="45.36" fill="#000" fill-opacity="0.7"/><ellipse cx="380" cy="700" rx="56.160000000000004" ry="56.160000000000004" fill="#000" fill-opacity="0.65"/><ellipse cx="830" cy="740" rx="66.96000000000001" ry="43.2" fill="#000" fill-opacity="0.7"/><ellipse cx="840" cy="965" rx="56.160000000000004" ry="43.2" fill="#000" fill-opacity="1"/><ellipse cx="670" cy="950" rx="66.96000000000001" ry="38.88" fill="#000" fill-opacity="0.6"/><ellipse cx="890" cy="1110" rx="38.88" ry="56.160000000000004" fill="#000" fill-opacity="0.7"/><ellipse cx="790" cy="1300" rx="66.96000000000001" ry="56.160000000000004" fill="#000" fill-opacity="1"/><ellipse cx="620" cy="1420" rx="56.160000000000004" ry="77.76" fill="#000" fill-opacity="1"/><ellipse cx="950" cy="1290" rx="32.400000000000006" ry="56.160000000000004" fill="#000" fill-opacity="0.7"/><ellipse cx="780" cy="1620" rx="66.96000000000001" ry="49.68000000000001" fill="#000" fill-opacity="1"/><ellipse cx="340" cy="1570" rx="56.160000000000004" ry="43.2" fill="#000" fill-opacity="0.7"/><ellipse cx="330" cy="240" rx="66.96000000000001" ry="43.2" fill="#000" fill-opacity="0.35"/><ellipse cx="700" cy="240" rx="43.2" ry="66.96000000000001" fill="#000" fill-opacity="0.4"/><ellipse cx="450" cy="1180" rx="77.76" ry="38.88" fill="#000" fill-opacity="0.35"/><ellipse cx="750" cy="1430" rx="38.88" ry="38.88" fill="#000" fill-opacity="0.8"/><ellipse cx="930" cy="1560" rx="32.400000000000006" ry="43.2" fill="#000" fill-opacity="0.7"/><ellipse cx="1070" cy="560" rx="27.0" ry="54.0" fill="#000" fill-opacity="0.7"/></g></g></g>
<g transform="translate(1170,916) scale(0.16906)"><clipPath id="c14"><polygon points="365,75 675,75 705,60 1005,75 1045,95 1060,150 1090,230 1115,320 1115,540 1095,590 1055,640 1015,700 1000,760 1015,850 1015,1180 1000,1260 1000,1540 990,1600 975,1665 815,1665 755,1655 225,1645 105,1630 75,1590 75,1480 110,1280 165,1160 195,1100 190,700 190,300 200,200 230,140 315,110"/></clipPath><g clip-path="url(#c14)"><g filter="url(#f10)"><rect x="-200" y="-200" width="1600" height="2100" fill="#8e8e8e"/><ellipse cx="600" cy="130" rx="60.480000000000004" ry="49.68000000000001" fill="#fff" fill-opacity="0.9"/><ellipse cx="820" cy="120" rx="66.96000000000001" ry="43.2" fill="#fff" fill-opacity="0.6"/><ellipse cx="1000" cy="170" rx="54.0" ry="66.96000000000001" fill="#fff" fill-opacity="0.9"/><ellipse cx="380" cy="330" rx="66.96000000000001" ry="77.76" fill="#fff" fill-opacity="0.55"/><ellipse cx="680" cy="350" rx="60.480000000000004" ry="71.28" fill="#fff" fill-opacity="0.9"/><ellipse cx="900" cy="400" rx="113.4" ry="77.76" transform="rotate(-35 900 400)" fill="#fff" fill-opacity="1"/><ellipse cx="590" cy="515" rx="99.36000000000001" ry="54.0" fill="#fff" fill-opacity="1"/><ellipse cx="570" cy="770" rx="88.56" ry="71.28" transform="rotate(-25 570 770)" fill="#fff" fill-opacity="1"/><ellipse cx="830" cy="640" rx="99.36000000000001" ry="54.0" fill="#fff" fill-opacity="0.5"/><ellipse cx="790" cy="940" rx="60.480000000000004" ry="84.24000000000001" fill="#fff" fill-opacity="1"/><ellipse cx="570" cy="1040" rx="84.24000000000001" ry="60.480000000000004" fill="#fff" fill-opacity="0.9"/><ellipse cx="940" cy="850" rx="64.80000000000001" ry="108.0" fill="#fff" fill-opacity="0.45"/><ellipse cx="960" cy="1080" rx="43.2" ry="88.56" fill="#fff" fill-opacity="0.6"/><ellipse cx="410" cy="1260" rx="60.480000000000004" ry="60.480000000000004" fill="#fff" fill-opacity="0.9"/><ellipse cx="600" cy="1300" rx="49.68000000000001" ry="49.68000000000001" fill="#fff" fill-opacity="0.9"/><ellipse cx="830" cy="1290" rx="88.56" ry="99.36000000000001" transform="rotate(-25 830 1290)" fill="#fff" fill-opacity="1"/><ellipse cx="680" cy="1530" rx="77.76" ry="77.76" fill="#fff" fill-opacity="1"/><ellipse cx="900" cy="1610" rx="77.76" ry="54.0" fill="#fff" fill-opacity="1"/><ellipse cx="380" cy="1490" rx="66.96000000000001" ry="54.0" fill="#fff" fill-opacity="0.55"/><ellipse cx="150" cy="1430" rx="43.2" ry="88.56" fill="#fff" fill-opacity="0.35"/><ellipse cx="250" cy="1570" rx="45.36" ry="45.36" fill="#fff" fill-opacity="0.4"/><ellipse cx="670" cy="190" rx="45.36" ry="38.88" fill="#000" fill-opacity="0.8"/><ellipse cx="550" cy="350" rx="49.68000000000001" ry="49.68000000000001" fill="#000" fill-opacity="0.75"/><ellipse cx="960" cy="510" rx="113.4" ry="54.0" transform="rotate(-25 960 510)" fill="#000" fill-opacity="1"/><ellipse cx="430" cy="700" rx="43.2" ry="66.96000000000001" fill="#000" fill-opacity="0.6"/><ellipse cx="620" cy="890" rx="56.160000000000004" ry="43.2" fill="#000" fill-opacity="0.8"/><ellipse cx="820" cy="1080" rx="66.96000000000001" ry="60.480000000000004" fill="#000" fill-opacity="1"/><ellipse cx="890" cy="1165" rx="54.0" ry="49.68000000000001" fill="#000" fill-opacity="1"/><ellipse cx="600" cy="1180" rx="77.76" ry="54.0" fill="#000" fill-opacity="0.8"/><ellipse cx="720" cy="1350" rx="56.160000000000004" ry="66.96000000000001" fill="#000" fill-opacity="1"/><ellipse cx="860" cy="1470" rx="135.0" ry="64.80000000000001" transform="rotate(25 860 1470)" fill="#000" fill-opacity="1"/><ellipse cx="510" cy="1420" rx="56.160000000000004" ry="77.76" fill="#000" fill-opacity="1"/><ellipse cx="270" cy="1410" rx="56.160000000000004" ry="49.68000000000001" fill="#000" fill-opacity="0.65"/><ellipse cx="740" cy="230" rx="56.160000000000004" ry="43.2" fill="#000" fill-opacity="0.6"/><ellipse cx="900" cy="900" rx="32.400000000000006" ry="32.400000000000006" fill="#000" fill-opacity="0.6"/><ellipse cx="420" cy="500" rx="45.36" ry="45.36" fill="#000" fill-opacity="0.35"/><ellipse cx="560" cy="640" rx="129.60000000000002" ry="27.0" fill="#000" fill-opacity="0.35"/></g></g></g>
<text x="1084.03" y="552.50" font-size="44.00" font-weight="bold" fill="#000" stroke="#000" stroke-width="0.35">f</text>
<text x="1226.68" y="567.90" font-size="35.20" fill="#000" stroke="#000" stroke-width="0.35">Mean</text>
<rect x="1407.5" y="826" width="22.5" height="161" fill="url(#gv)"/>
<path d="M1407.5,826.5H1434M1430,826V987M1407.5,986.5H1434" fill="none" stroke="#000" stroke-width="1.1"/>
<text x="1434.60" y="836.60" font-size="31.20" fill="#000" stroke="#000" stroke-width="0.35">0.1</text>
<text x="1431.00" y="997.80" font-size="31.20" fill="#000" stroke="#000" stroke-width="0.35">-0.1</text>
<text transform="translate(1399.80,954.65) rotate(-90)" font-size="30.60" fill="#000" stroke="#000" stroke-width="0.35">z-score</text>
<rect x="172.7" y="1451.1" width="257" height="47.9" fill="#e2e2f8"/>
<line x1="170.5" y1="1473.8" x2="430" y2="1473.8" stroke="#4444d8" stroke-width="3.6"/>
<line x1="182.4" y1="1600.4" x2="427.9" y2="1359.6" stroke="#808080" stroke-width="3.2" stroke-dasharray="15 12.4"/>
<circle cx="206.1" cy="1435.2" r="14" fill="#9dd69a" fill-opacity="0.6"/>
<circle cx="195.5" cy="1444.5" r="14" fill="#9dd69a" fill-opacity="0.6"/>
<circle cx="206.1" cy="1444.5" r="14" fill="#9dd69a" fill-opacity="0.6"/>
<circle cx="195.5" cy="1455.7" r="14" fill="#9dd69a" fill-opacity="0.6"/>
<circle cx="206.1" cy="1455.7" r="14" fill="#9dd69a" fill-opacity="0.6"/>
<circle cx="195.5" cy="1465.1" r="14" fill="#9dd69a" fill-opacity="0.6"/>
<circle cx="206.1" cy="1465.1" r="14" fill="#9dd69a" fill-opacity="0.6"/>
<circle cx="195.5" cy="1474.4" r="14" fill="#9dd69a" fill-opacity="0.6"/>
<circle cx="206.1" cy="1474.4" r="14" fill="#9dd69a" fill-opacity="0.6"/>
<circle cx="195.5" cy="1483.7" r="14" fill="#9dd69a" fill-opacity="0.6"/>
<circle cx="206.1" cy="1483.7" r="14" fill="#9dd69a" fill-opacity="0.6"/>
<circle cx="195.5" cy="1494.9" r="14" fill="#9dd69a" fill-opacity="0.6"/>
<circle cx="206.1" cy="1494.9" r="14" fill="#9dd69a" fill-opacity="0.6"/>
<circle cx="196.4" cy="1510.8" r="14" fill="#9dd69a" fill-opacity="0.6"/>
<circle cx="268.3" cy="1455.7" r="14" fill="#5cb86a" fill-opacity="0.6"/>
<circle cx="268.3" cy="1466.9" r="14" fill="#5cb86a" fill-opacity="0.6"/>
<circle cx="257.1" cy="1476.3" r="14" fill="#5cb86a" fill-opacity="0.6"/>
<circle cx="268.3" cy="1476.3" r="14" fill="#5cb86a" fill-opacity="0.6"/>
<circle cx="268.3" cy="1485.6" r="14" fill="#5cb86a" fill-opacity="0.6"/>
<circle cx="257.1" cy="1494.9" r="14" fill="#5cb86a" fill-opacity="0.6"/>
<circle cx="268.3" cy="1494.9" r="14" fill="#5cb86a" fill-opacity="0.6"/>
<circle cx="256.1" cy="1508.9" r="14" fill="#5cb86a" fill-opacity="0.6"/>
<circle cx="268.3" cy="1508.9" r="14" fill="#5cb86a" fill-opacity="0.6"/>
<circle cx="288.8" cy="1455.7" r="14" fill="#3c9e60" fill-opacity="0.55"/>
<circle cx="288.8" cy="1466.9" r="14" fill="#3c9e60" fill-opacity="0.55"/>
<circle cx="288.8" cy="1470.7" r="14" fill="#3c9e60" fill-opacity="0.55"/>
<circle cx="285.1" cy="1508.0" r="14" fill="#3c9e60" fill-opacity="0.55"/>
<circle cx="275.7" cy="1518.3" r="14" fill="#3c9e60" fill-opacity="0.55"/>
<circle cx="341.1" cy="1455.7" r="14" fill="#23824b" fill-opacity="0.65"/>
<circle cx="351.3" cy="1455.7" r="14" fill="#23824b" fill-opacity="0.65"/>
<circle cx="341.1" cy="1466.9" r="14" fill="#23824b" fill-opacity="0.65"/>
<circle cx="334.5" cy="1508.9" r="14" fill="#23824b" fill-opacity="0.95"/>
<circle cx="403.6" cy="1465.1" r="14" fill="#285f42" fill-opacity="0.65"/>
<circle cx="402.7" cy="1476.3" r="14" fill="#285f42" fill-opacity="0.65"/>
<circle cx="402.7" cy="1481.9" r="14" fill="#285f42" fill-opacity="0.65"/>
<circle cx="393.3" cy="1508.9" r="14" fill="#285f42" fill-opacity="0.65"/>
<circle cx="402.7" cy="1508.9" r="14" fill="#285f42" fill-opacity="0.65"/>
<circle cx="393.3" cy="1518.3" r="14" fill="#285f42" fill-opacity="0.65"/>
<polyline points="199.8,1475.3 266.4,1484.7 281.7,1489.3 342.0,1482.8 396.7,1490.3" fill="none" stroke="#0c4a24" stroke-width="4.4"/>
<line x1="199.8" y1="1467.3" x2="199.8" y2="1483.3" stroke="#0c4a24" stroke-width="5.5"/>
<line x1="266.4" y1="1478.7" x2="266.4" y2="1490.7" stroke="#0c4a24" stroke-width="5.5"/>
<line x1="281.7" y1="1480.3" x2="281.7" y2="1498.3" stroke="#0c4a24" stroke-width="5.5"/>
<line x1="342.0" y1="1473.8" x2="342.0" y2="1491.8" stroke="#0c4a24" stroke-width="5.5"/>
<line x1="396.7" y1="1482.3" x2="396.7" y2="1498.3" stroke="#0c4a24" stroke-width="5.5"/>
<path d="M170.50,1355.40V1614.80H431.80" fill="none" stroke="#000" stroke-width="3.6" stroke-linejoin="miter"/><line x1="202.00" y1="1614.80" x2="202.00" y2="1631.80" stroke="#000" stroke-width="3.6"/><line x1="364.80" y1="1614.80" x2="364.80" y2="1631.80" stroke="#000" stroke-width="3.6"/><line x1="153.50" y1="1421.60" x2="170.50" y2="1421.60" stroke="#000" stroke-width="3.6"/><line x1="153.50" y1="1582.70" x2="170.50" y2="1582.70" stroke="#000" stroke-width="3.6"/>
<text x="91.98" y="1432.20" font-size="34.40" fill="#000" stroke="#000" stroke-width="0.35">1.0</text>
<text x="91.98" y="1593.30" font-size="34.40" fill="#000" stroke="#000" stroke-width="0.35">0.5</text>
<text x="178.09" y="1667.30" font-size="34.40" fill="#000" stroke="#000" stroke-width="0.35">0.5</text>
<text x="341.52" y="1667.30" font-size="34.40" fill="#000" stroke="#000" stroke-width="0.35">1.0</text>
<text x="158.30" y="1303.30" font-size="35.23" word-spacing="0.00" fill="#000" stroke="#000" stroke-width="0.35">Individual events</text>
<text x="115.00" y="1703.30" font-size="34.30" word-spacing="0.00" fill="#000" stroke="#000" stroke-width="0.35">Wavelength input (mm)</text>
<text transform="translate(74.10,1671.30) rotate(-90)" font-size="34.28" word-spacing="0.00" fill="#000" stroke="#000" stroke-width="0.35">Wavelength output (mm)</text>
<text x="177.39" y="1369.90" font-size="30.60" fill="#0a6c30" stroke="#0a6c30" stroke-width="0.35">Opto-evoked</text>
<text x="177.17" y="1404.40" font-size="30.60" fill="#4646d6" stroke="#4646d6" stroke-width="0.35">Spontaneous</text>
<circle cx="306.5" cy="1581.4" r="12.7" fill="#061b1a"/>
<text x="333.03" y="1590.10" font-size="30.60" fill="#000" stroke="#000" stroke-width="0.35">Events</text>
<text x="0.76" y="1278.60" font-size="44.00" font-weight="bold" fill="#000" stroke="#000" stroke-width="0.35">g</text>
<rect x="687" y="1451.1" width="258" height="47.9" fill="#e2e2f8"/>
<line x1="684.9" y1="1473.8" x2="945.5" y2="1473.8" stroke="#4444d8" stroke-width="3.6"/>
<line x1="698" y1="1600.4" x2="940.7" y2="1360.5" stroke="#808080" stroke-width="3.2" stroke-dasharray="15 12.2"/>
<polygon points="710.1,1479.1 696.1,1506.6 724.1,1506.6" fill="#98d494" fill-opacity="0.5"/>
<polygon points="720.4,1477.2 706.4,1504.7 734.4,1504.7" fill="#98d494" fill-opacity="0.5"/>
<polygon points="710.1,1489.3 696.1,1516.8 724.1,1516.8" fill="#98d494" fill-opacity="0.5"/>
<polygon points="720.4,1489.3 706.4,1516.8 734.4,1516.8" fill="#98d494" fill-opacity="0.5"/>
<polygon points="710.1,1500.5 696.1,1528.0 724.1,1528.0" fill="#98d494" fill-opacity="0.5"/>
<polygon points="720.4,1500.5 706.4,1528.0 734.4,1528.0" fill="#98d494" fill-opacity="0.5"/>
<polygon points="710.1,1508.0 696.1,1535.5 724.1,1535.5" fill="#98d494" fill-opacity="0.5"/>
<polygon points="710.1,1515.5 696.1,1543.0 724.1,1543.0" fill="#98d494" fill-opacity="0.5"/>
<polygon points="720.4,1515.5 706.4,1543.0 734.4,1543.0" fill="#98d494" fill-opacity="0.5"/>
<polygon points="711.1,1524.8 697.1,1552.3 725.1,1552.3" fill="#98d494" fill-opacity="0.5"/>
<polygon points="720.4,1524.8 706.4,1552.3 734.4,1552.3" fill="#98d494" fill-opacity="0.5"/>
<polygon points="710.1,1536.0 696.1,1563.5 724.1,1563.5" fill="#98d494" fill-opacity="0.5"/>
<polygon points="720.4,1534.1 706.4,1561.6 734.4,1561.6" fill="#98d494" fill-opacity="0.5"/>
<polygon points="710.1,1547.2 696.1,1574.7 724.1,1574.7" fill="#98d494" fill-opacity="0.5"/>
<polygon points="720.4,1547.2 706.4,1574.7 734.4,1574.7" fill="#98d494" fill-opacity="0.5"/>
<polygon points="710.1,1562.1 696.1,1589.6 724.1,1589.6" fill="#98d494" fill-opacity="0.5"/>
<polygon points="782.9,1480.9 768.9,1508.4 796.9,1508.4" fill="#52b068" fill-opacity="0.5"/>
<polygon points="790.4,1476.3 776.4,1503.8 804.4,1503.8" fill="#52b068" fill-opacity="0.5"/>
<polygon points="782.9,1489.3 768.9,1516.8 796.9,1516.8" fill="#52b068" fill-opacity="0.5"/>
<polygon points="790.4,1489.3 776.4,1516.8 804.4,1516.8" fill="#52b068" fill-opacity="0.5"/>
<polygon points="771.7,1498.7 757.7,1526.2 785.7,1526.2" fill="#52b068" fill-opacity="0.5"/>
<polygon points="782.9,1500.5 768.9,1528.0 796.9,1528.0" fill="#52b068" fill-opacity="0.5"/>
<polygon points="793.2,1498.7 779.2,1526.2 807.2,1526.2" fill="#52b068" fill-opacity="0.5"/>
<polygon points="782.9,1509.9 768.9,1537.4 796.9,1537.4" fill="#52b068" fill-opacity="0.5"/>
<polygon points="782.9,1517.3 768.9,1544.8 796.9,1544.8" fill="#52b068" fill-opacity="0.5"/>
<polygon points="803.5,1469.7 789.5,1497.2 817.5,1497.2" fill="#3c9664" fill-opacity="0.6"/>
<polygon points="803.5,1491.2 789.5,1518.7 817.5,1518.7" fill="#3c9664" fill-opacity="0.6"/>
<polygon points="798.8,1481.9 784.8,1509.4 812.8,1509.4" fill="#3c9664" fill-opacity="0.6"/>
<polygon points="849.8,1435.2 835.8,1462.7 863.8,1462.7" fill="#28824f" fill-opacity="0.55"/>
<polygon points="866.9,1435.2 852.9,1462.7 880.9,1462.7" fill="#28824f" fill-opacity="0.55"/>
<polygon points="849.8,1450.1 835.8,1477.6 863.8,1477.6" fill="#28824f" fill-opacity="0.55"/>
<polygon points="866.0,1444.5 852.0,1472.0 880.0,1472.0" fill="#28824f" fill-opacity="0.55"/>
<polygon points="866.0,1448.3 852.0,1475.8 880.0,1475.8" fill="#28824f" fill-opacity="0.55"/>
<polygon points="908.0,1379.8 894.0,1407.3 922.0,1407.3" fill="#326e4b" fill-opacity="0.6"/>
<polygon points="917.3,1410.0 903.3,1437.5 931.3,1437.5" fill="#326e4b" fill-opacity="0.6"/>
<polygon points="917.3,1420.3 903.3,1447.8 931.3,1447.8" fill="#326e4b" fill-opacity="0.6"/>
<polygon points="917.3,1435.2 903.3,1462.7 931.3,1462.7" fill="#326e4b" fill-opacity="0.6"/>
<polygon points="908.6,1451.1 894.6,1478.6 922.6,1478.6" fill="#326e4b" fill-opacity="0.6"/>
<polygon points="908.6,1469.7 894.6,1497.2 922.6,1497.2" fill="#326e4b" fill-opacity="0.6"/>
<polyline points="716.7,1530.8 782.9,1514.5 796.9,1498.7 838.9,1468.8 858.5,1458.5 916.4,1441.7" fill="none" stroke="#0c4a24" stroke-width="4.4" stroke-linejoin="round"/>
<rect x="713.2" y="1524.8" width="7" height="12" fill="#0c4a24"/>
<rect x="779.9" y="1510.5" width="6" height="8" fill="#0c4a24"/>
<rect x="910.4" y="1430.7" width="12" height="22" fill="#0c4a24"/>
<path d="M684.90,1355.40V1614.80H947.30" fill="none" stroke="#000" stroke-width="3.6" stroke-linejoin="miter"/><line x1="716.70" y1="1614.80" x2="716.70" y2="1631.80" stroke="#000" stroke-width="3.6"/><line x1="879.10" y1="1614.80" x2="879.10" y2="1631.80" stroke="#000" stroke-width="3.6"/><line x1="667.90" y1="1421.60" x2="684.90" y2="1421.60" stroke="#000" stroke-width="3.6"/><line x1="667.90" y1="1582.70" x2="684.90" y2="1582.70" stroke="#000" stroke-width="3.6"/>
<text x="608.68" y="1432.20" font-size="34.40" fill="#000" stroke="#000" stroke-width="0.35">1.0</text>
<text x="608.68" y="1593.30" font-size="34.40" fill="#000" stroke="#000" stroke-width="0.35">0.5</text>
<text x="693.59" y="1667.30" font-size="34.40" fill="#000" stroke="#000" stroke-width="0.35">0.5</text>
<text x="857.52" y="1667.30" font-size="34.40" fill="#000" stroke="#000" stroke-width="0.35">1.0</text>
<text x="690.00" y="1303.30" font-size="35.30" word-spacing="0.00" fill="#000" stroke="#000" stroke-width="0.35">Mean response</text>
<text x="630.00" y="1703.30" font-size="34.24" word-spacing="0.00" fill="#000" stroke="#000" stroke-width="0.35">Wavelength input (mm)</text>
<text transform="translate(597.30,1671.30) rotate(-90)" font-size="34.28" word-spacing="0.00" fill="#000" stroke="#000" stroke-width="0.35">Wavelength output (mm)</text>
<polygon points="838.9,1573.0 825.9,1598.5 851.9,1598.5" fill="#0f2d2c" fill-opacity="1"/>
<text x="867.13" y="1597.20" font-size="30.60" fill="#000" stroke="#000" stroke-width="0.35">Mean</text>
<text x="522.16" y="1278.00" font-size="44.00" font-weight="bold" fill="#000" stroke="#000" stroke-width="0.35">h</text>
<rect x="1196" y="1428.1" width="256" height="86.4" fill="#e2e2f8"/>
<line x1="1194" y1="1470.2" x2="1452" y2="1470.2" stroke="#4444d8" stroke-width="4.6"/>
<polyline points="1230.0,1419.3 1292.6,1462.3" fill="none" stroke="#b4b4b4" stroke-width="1.3" stroke-dasharray="6 3"/>
<polyline points="1230.0,1442.7 1292.6,1470.7" fill="none" stroke="#b4b4b4" stroke-width="1.3" stroke-dasharray="6 3"/>
<polyline points="1219.8,1453.3 1292.6,1470.7 1312.5,1471.6" fill="none" stroke="#b4b4b4" stroke-width="1.3" stroke-dasharray="6 3"/>
<polyline points="1220.1,1493.4 1292.6,1487.5" fill="none" stroke="#b4b4b4" stroke-width="1.3" stroke-dasharray="6 3"/>
<polyline points="1221.4,1500.2 1280.8,1500.2" fill="none" stroke="#b4b4b4" stroke-width="1.3" stroke-dasharray="6 3"/>
<polyline points="1219.8,1527.6 1280.8,1508.0 1292.6,1504.3" fill="none" stroke="#b4b4b4" stroke-width="1.3" stroke-dasharray="6 3"/>
<polyline points="1230.4,1537.9 1292.6,1550.9" fill="none" stroke="#b4b4b4" stroke-width="1.3" stroke-dasharray="6 3"/>
<polyline points="1221.4,1547.2 1280.8,1520.1" fill="none" stroke="#b4b4b4" stroke-width="1.3" stroke-dasharray="6 3"/>
<polyline points="1219.8,1555.6 1292.6,1561.2" fill="none" stroke="#b4b4b4" stroke-width="1.3" stroke-dasharray="6 3"/>
<polyline points="1230.4,1594.8 1292.6,1561.2" fill="none" stroke="#b4b4b4" stroke-width="1.3" stroke-dasharray="6 3"/>
<polyline points="1234.1,1610.7 1254.7,1564.0 1280.8,1520.1 1312.9,1471.6 1358.3,1413.4 1417.6,1391.3" fill="none" stroke="#b4b4b4" stroke-width="1.3" stroke-dasharray="6 3"/>
<polyline points="1292.6,1561.2 1312.9,1534.1 1358.3,1470.7 1374.7,1459.5 1427.3,1422.1" fill="none" stroke="#b4b4b4" stroke-width="1.3" stroke-dasharray="6 3"/>
<polyline points="1292.6,1504.3 1358.3,1500.2 1422.7,1506.1" fill="none" stroke="#b4b4b4" stroke-width="1.3" stroke-dasharray="6 3"/>
<polyline points="1312.5,1471.6 1374.7,1464.1 1422.7,1487.5" fill="none" stroke="#b4b4b4" stroke-width="1.3" stroke-dasharray="6 3"/>
<circle cx="1230.0" cy="1419.3" r="4.8" fill="#b4b4b4"/>
<circle cx="1230.0" cy="1442.7" r="4.8" fill="#b4b4b4"/>
<circle cx="1219.8" cy="1453.3" r="4.8" fill="#b4b4b4"/>
<circle cx="1220.1" cy="1493.4" r="4.8" fill="#b4b4b4"/>
<circle cx="1221.4" cy="1500.2" r="4.8" fill="#b4b4b4"/>
<circle cx="1230.4" cy="1537.9" r="4.8" fill="#b4b4b4"/>
<circle cx="1292.6" cy="1462.3" r="4.8" fill="#b4b4b4"/>
<circle cx="1292.6" cy="1470.7" r="4.8" fill="#b4b4b4"/>
<circle cx="1312.5" cy="1471.6" r="4.8" fill="#b4b4b4"/>
<circle cx="1280.8" cy="1500.2" r="4.8" fill="#b4b4b4"/>
<circle cx="1292.6" cy="1504.3" r="4.8" fill="#b4b4b4"/>
<circle cx="1292.6" cy="1550.9" r="4.8" fill="#b4b4b4"/>
<circle cx="1358.3" cy="1500.2" r="4.8" fill="#b4b4b4"/>
<polygon points="1219.8,1522.6 1214.9,1531.1 1224.7,1531.1" fill="#b4b4b4" fill-opacity="1"/>
<polygon points="1221.4,1542.2 1216.5,1550.7 1226.3,1550.7" fill="#b4b4b4" fill-opacity="1"/>
<polygon points="1219.8,1550.6 1214.9,1559.1 1224.7,1559.1" fill="#b4b4b4" fill-opacity="1"/>
<polygon points="1230.4,1589.8 1225.5,1598.3 1235.3,1598.3" fill="#b4b4b4" fill-opacity="1"/>
<polygon points="1280.8,1515.1 1275.9,1523.6 1285.7,1523.6" fill="#b4b4b4" fill-opacity="1"/>
<polygon points="1292.6,1556.2 1287.7,1564.7 1297.5,1564.7" fill="#b4b4b4" fill-opacity="1"/>
<polygon points="1312.9,1529.1 1308.0,1537.6 1317.8,1537.6" fill="#b4b4b4" fill-opacity="1"/>
<polygon points="1358.3,1408.4 1353.4,1416.9 1363.2,1416.9" fill="#b4b4b4" fill-opacity="1"/>
<polygon points="1374.7,1454.5 1369.8,1463.0 1379.6,1463.0" fill="#b4b4b4" fill-opacity="1"/>
<polygon points="1417.6,1386.3 1412.7,1394.8 1422.5,1394.8" fill="#b4b4b4" fill-opacity="1"/>
<polygon points="1427.3,1417.1 1422.4,1425.6 1432.2,1425.6" fill="#b4b4b4" fill-opacity="1"/>
<polyline points="1224.2,1573.3 1291.4,1526.7 1306.6,1508.9 1366.7,1437.1 1422.7,1408.1" fill="none" stroke="#2d6a4b" stroke-opacity="0.65" stroke-width="4.6"/>
<polyline points="1224.2,1471.6 1291.4,1489.3 1306.6,1491.2 1366.7,1481.3 1422.7,1498.3" fill="none" stroke="#2d6a4b" stroke-opacity="0.65" stroke-width="4.6"/>
<polygon points="1224.2,1556.5 1210.2,1584.0 1238.2,1584.0" fill="#98d594" fill-opacity="1"/>
<polygon points="1291.4,1510.8 1277.4,1538.3 1305.4,1538.3" fill="#60ba6c" fill-opacity="1"/>
<polygon points="1306.6,1493.4 1292.6,1520.9 1320.6,1520.9" fill="#2f974e" fill-opacity="1"/>
<polygon points="1366.7,1421.2 1352.7,1448.7 1380.7,1448.7" fill="#06722f" fill-opacity="1"/>
<polygon points="1422.7,1392.3 1408.7,1419.8 1436.7,1419.8" fill="#00451c" fill-opacity="1"/>
<circle cx="1224.2" cy="1471.6" r="14" fill="#98d594"/>
<circle cx="1291.4" cy="1489.3" r="14" fill="#60ba6c"/>
<circle cx="1306.6" cy="1491.2" r="14" fill="#2f974e"/>
<circle cx="1366.7" cy="1481.3" r="14" fill="#06722f"/>
<circle cx="1422.7" cy="1498.3" r="14" fill="#00451c"/>
<path d="M1194.00,1355.00V1614.80H1456.60" fill="none" stroke="#000" stroke-width="3.6" stroke-linejoin="miter"/><line x1="1226.70" y1="1614.80" x2="1226.70" y2="1631.80" stroke="#000" stroke-width="3.6"/><line x1="1389.10" y1="1614.80" x2="1389.10" y2="1631.80" stroke="#000" stroke-width="3.6"/><line x1="1177.00" y1="1356.80" x2="1194.00" y2="1356.80" stroke="#000" stroke-width="3.6"/><line x1="1177.00" y1="1470.70" x2="1194.00" y2="1470.70" stroke="#000" stroke-width="3.6"/><line x1="1177.00" y1="1586.00" x2="1194.00" y2="1586.00" stroke="#000" stroke-width="3.6"/>
<text x="1116.48" y="1367.40" font-size="34.40" fill="#000" stroke="#000" stroke-width="0.35">0.2</text>
<text x="1116.48" y="1481.30" font-size="34.40" fill="#000" stroke="#000" stroke-width="0.35">0.0</text>
<text x="1105.03" y="1596.60" font-size="34.40" fill="#000" stroke="#000" stroke-width="0.35">-0.2</text>
<text x="1203.29" y="1667.30" font-size="34.40" fill="#000" stroke="#000" stroke-width="0.35">0.5</text>
<text x="1365.92" y="1667.30" font-size="34.40" fill="#000" stroke="#000" stroke-width="0.35">1.0</text>
<text x="1145.70" y="1703.30" font-size="34.27" word-spacing="0.00" fill="#000" stroke="#000" stroke-width="0.35">Wavelength input (mm)</text>
<text transform="translate(1099.80,1572.00) rotate(-90)" font-size="33.23" word-spacing="-0.00" fill="#000" stroke="#000" stroke-width="0.35">Δ wavelength</text>
<circle cx="1208.0" cy="1366.5" r="4.8" fill="#b4b4b4"/>
<polygon points="1220.1,1361.1 1215.2,1369.6 1225.0,1369.6" fill="#b4b4b4" fill-opacity="1"/>
<text x="1227.60" y="1375.50" font-size="26.00" word-spacing="-1.14" fill="#b4b4b4" stroke="#b4b4b4" stroke-width="0.35">Animal mean</text>
<text x="1227.60" y="1396.00" font-size="26.00" word-spacing="-1.73" fill="#6d9b80" stroke="#6d9b80" stroke-width="0.35">Group mean</text>
<text x="1057.73" y="1278.00" font-size="44.00" font-weight="bold" fill="#000" stroke="#000" stroke-width="0.35">i</text>
</svg>
</body></html>
